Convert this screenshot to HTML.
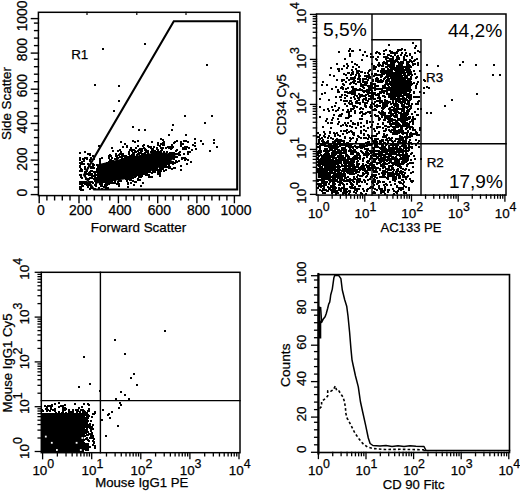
<!DOCTYPE html>
<html><head><meta charset="utf-8"><style>
html,body{margin:0;padding:0;background:#fff;overflow:hidden;width:520px;height:493px;}
svg{display:block;}
</style></head><body>
<svg width="520" height="493" viewBox="0 0 520 493" font-family='"Liberation Sans", sans-serif'>
<rect x="0" y="0" width="520" height="493" fill="#fff"/>
<polygon points="97,164.5 127,157.5 148,153.5 165,152.5 177,156 168,163.5 148,172.5 127,179 97,183.5" fill="#000"/><rect x="41.5" y="413" width="42.5" height="39.5" fill="#000"/><polygon points="318,306.5 320.3,306.5 320.3,320 321.3,322 321.3,338.5 318,338.5" fill="#000"/>
<path d="M130 168h2v2h-2zM140 161h2v2h-2zM124 172h2v2h-2zM121 168h2v2h-2zM150 168h2v2h-2zM120 168h2v2h-2zM114 169h2v2h-2zM142 165h2v2h-2zM155 162h2v2h-2zM121 169h2v2h-2zM130 164h2v2h-2zM131 169h2v2h-2zM105 186h2v2h-2zM168 159h2v2h-2zM184 157h2v2h-2zM157 155h2v2h-2zM138 169h2v2h-2zM96 181h2v2h-2zM101 169h2v2h-2zM137 174h2v2h-2zM121 158h2v2h-2zM138 162h2v2h-2zM143 162h2v2h-2zM140 158h2v2h-2zM146 172h2v2h-2zM146 165h2v2h-2zM173 158h2v2h-2zM143 169h2v2h-2zM130 169h2v2h-2zM130 165h2v2h-2zM181 157h2v2h-2zM140 155h2v2h-2zM112 178h2v2h-2zM133 160h2v2h-2zM162 165h2v2h-2zM121 177h2v2h-2zM87 183h2v2h-2zM146 174h2v2h-2zM123 162h2v2h-2zM145 166h2v2h-2zM148 163h2v2h-2zM107 170h2v2h-2zM135 167h2v2h-2zM119 170h2v2h-2zM102 166h2v2h-2zM155 167h2v2h-2zM102 179h2v2h-2zM154 161h2v2h-2zM137 179h2v2h-2zM152 164h2v2h-2zM123 171h2v2h-2zM121 163h2v2h-2zM134 173h2v2h-2zM125 163h2v2h-2zM155 165h2v2h-2zM145 173h2v2h-2zM137 169h2v2h-2zM148 161h2v2h-2zM127 175h2v2h-2zM120 161h2v2h-2zM137 162h2v2h-2zM115 173h2v2h-2zM105 172h2v2h-2zM127 166h2v2h-2zM111 178h2v2h-2zM168 162h2v2h-2zM123 163h2v2h-2zM117 172h2v2h-2zM130 161h2v2h-2zM133 169h2v2h-2zM108 183h2v2h-2zM118 162h2v2h-2zM138 165h2v2h-2zM121 167h2v2h-2zM124 157h2v2h-2zM150 166h2v2h-2zM134 165h2v2h-2zM139 162h2v2h-2zM154 168h2v2h-2zM137 161h2v2h-2zM143 167h2v2h-2zM142 173h2v2h-2zM98 187h2v2h-2zM126 180h2v2h-2zM156 167h2v2h-2zM102 170h2v2h-2zM112 175h2v2h-2zM135 163h2v2h-2zM105 171h2v2h-2zM129 168h2v2h-2zM108 161h2v2h-2zM111 180h2v2h-2zM131 167h2v2h-2zM127 169h2v2h-2zM120 180h2v2h-2zM154 169h2v2h-2zM143 166h2v2h-2zM142 164h2v2h-2zM159 175h2v2h-2zM128 172h2v2h-2zM147 166h2v2h-2zM141 175h2v2h-2zM149 171h2v2h-2zM140 185h2v2h-2zM182 157h2v2h-2zM154 158h2v2h-2zM160 158h2v2h-2zM153 171h2v2h-2zM135 166h2v2h-2zM148 174h2v2h-2zM135 159h2v2h-2zM146 168h2v2h-2zM142 182h2v2h-2zM137 172h2v2h-2zM103 169h2v2h-2zM163 151h2v2h-2zM137 167h2v2h-2zM172 152h2v2h-2zM119 174h2v2h-2zM146 167h2v2h-2zM125 176h2v2h-2zM151 172h2v2h-2zM154 162h2v2h-2zM105 169h2v2h-2zM140 157h2v2h-2zM99 173h2v2h-2zM184 159h2v2h-2zM159 156h2v2h-2zM144 173h2v2h-2zM155 164h2v2h-2zM140 173h2v2h-2zM133 170h2v2h-2zM129 167h2v2h-2zM97 170h2v2h-2zM136 161h2v2h-2zM155 169h2v2h-2zM128 173h2v2h-2zM139 172h2v2h-2zM110 164h2v2h-2zM142 158h2v2h-2zM158 162h2v2h-2zM102 171h2v2h-2zM166 159h2v2h-2zM144 163h2v2h-2zM104 177h2v2h-2zM126 157h2v2h-2zM132 172h2v2h-2zM115 174h2v2h-2zM152 167h2v2h-2zM109 164h2v2h-2zM138 174h2v2h-2zM132 164h2v2h-2zM110 159h2v2h-2zM119 173h2v2h-2zM119 166h2v2h-2zM149 165h2v2h-2zM113 167h2v2h-2zM122 174h2v2h-2zM159 170h2v2h-2zM90 170h2v2h-2zM136 163h2v2h-2zM133 163h2v2h-2zM108 172h2v2h-2zM145 157h2v2h-2zM146 161h2v2h-2zM145 167h2v2h-2zM166 163h2v2h-2zM117 161h2v2h-2zM135 164h2v2h-2zM163 165h2v2h-2zM153 163h2v2h-2zM105 168h2v2h-2zM92 165h2v2h-2zM151 163h2v2h-2zM131 168h2v2h-2zM151 168h2v2h-2zM122 166h2v2h-2zM161 167h2v2h-2zM120 163h2v2h-2zM143 168h2v2h-2zM130 179h2v2h-2zM139 165h2v2h-2zM176 153h2v2h-2zM136 162h2v2h-2zM171 157h2v2h-2zM114 176h2v2h-2zM187 159h2v2h-2zM123 169h2v2h-2zM131 157h2v2h-2zM172 161h2v2h-2zM104 184h2v2h-2zM126 172h2v2h-2zM140 171h2v2h-2zM106 174h2v2h-2zM122 168h2v2h-2zM145 165h2v2h-2zM142 163h2v2h-2zM121 162h2v2h-2zM90 167h2v2h-2zM134 176h2v2h-2zM112 170h2v2h-2zM122 172h2v2h-2zM174 167h2v2h-2zM124 166h2v2h-2zM137 163h2v2h-2zM117 163h2v2h-2zM138 160h2v2h-2zM166 158h2v2h-2zM123 170h2v2h-2zM94 173h2v2h-2zM130 159h2v2h-2zM118 172h2v2h-2zM142 157h2v2h-2zM139 158h2v2h-2zM132 173h2v2h-2zM127 173h2v2h-2zM114 166h2v2h-2zM105 174h2v2h-2zM119 176h2v2h-2zM181 158h2v2h-2zM180 165h2v2h-2zM142 155h2v2h-2zM137 164h2v2h-2zM185 158h2v2h-2zM147 162h2v2h-2zM141 161h2v2h-2zM130 167h2v2h-2zM125 169h2v2h-2zM124 171h2v2h-2zM123 175h2v2h-2zM115 163h2v2h-2zM91 173h2v2h-2zM124 163h2v2h-2zM152 161h2v2h-2zM153 164h2v2h-2zM157 161h2v2h-2zM141 160h2v2h-2zM126 167h2v2h-2zM136 169h2v2h-2zM118 173h2v2h-2zM103 170h2v2h-2zM135 171h2v2h-2zM144 165h2v2h-2zM101 182h2v2h-2zM142 171h2v2h-2zM162 162h2v2h-2zM116 173h2v2h-2zM120 173h2v2h-2zM122 171h2v2h-2zM119 156h2v2h-2zM150 161h2v2h-2zM170 161h2v2h-2zM107 174h2v2h-2zM109 162h2v2h-2zM110 171h2v2h-2zM138 167h2v2h-2zM140 169h2v2h-2zM158 159h2v2h-2zM99 180h2v2h-2zM111 175h2v2h-2zM167 166h2v2h-2zM98 174h2v2h-2zM124 168h2v2h-2zM170 157h2v2h-2zM122 162h2v2h-2zM169 167h2v2h-2zM81 181h2v2h-2zM128 160h2v2h-2zM135 172h2v2h-2zM118 180h2v2h-2zM122 163h2v2h-2zM134 151h2v2h-2zM152 170h2v2h-2zM123 166h2v2h-2zM165 162h2v2h-2zM164 161h2v2h-2zM148 176h2v2h-2zM126 173h2v2h-2zM146 154h2v2h-2zM173 154h2v2h-2zM149 164h2v2h-2zM119 168h2v2h-2zM152 155h2v2h-2zM132 152h2v2h-2zM116 155h2v2h-2zM122 170h2v2h-2zM80 176h2v2h-2zM118 166h2v2h-2zM159 169h2v2h-2zM152 162h2v2h-2zM121 165h2v2h-2zM117 174h2v2h-2zM115 165h2v2h-2zM180 169h2v2h-2zM150 163h2v2h-2zM114 180h2v2h-2zM134 157h2v2h-2zM132 174h2v2h-2zM147 152h2v2h-2zM157 154h2v2h-2zM130 166h2v2h-2zM134 169h2v2h-2zM101 167h2v2h-2zM168 160h2v2h-2zM128 168h2v2h-2zM111 160h2v2h-2zM149 167h2v2h-2zM99 168h2v2h-2zM117 181h2v2h-2zM109 168h2v2h-2zM145 174h2v2h-2zM149 169h2v2h-2zM164 153h2v2h-2zM146 163h2v2h-2zM152 159h2v2h-2zM159 173h2v2h-2zM187 151h2v2h-2zM163 157h2v2h-2zM151 151h2v2h-2zM90 181h2v2h-2zM87 184h2v2h-2zM103 171h2v2h-2zM133 168h2v2h-2zM127 172h2v2h-2zM142 162h2v2h-2zM109 154h2v2h-2zM167 161h2v2h-2zM118 183h2v2h-2zM139 164h2v2h-2zM140 164h2v2h-2zM112 168h2v2h-2zM112 160h2v2h-2zM85 171h2v2h-2zM143 163h2v2h-2zM100 173h2v2h-2zM153 155h2v2h-2zM115 164h2v2h-2zM120 164h2v2h-2zM110 162h2v2h-2zM129 166h2v2h-2zM129 172h2v2h-2zM106 181h2v2h-2zM130 182h2v2h-2zM156 163h2v2h-2zM125 159h2v2h-2zM159 165h2v2h-2zM132 170h2v2h-2zM118 175h2v2h-2zM115 168h2v2h-2zM151 166h2v2h-2zM132 167h2v2h-2zM96 171h2v2h-2zM165 155h2v2h-2zM135 165h2v2h-2zM180 143h2v2h-2zM126 160h2v2h-2zM132 165h2v2h-2zM115 175h2v2h-2zM132 156h2v2h-2zM142 161h2v2h-2zM142 166h2v2h-2zM161 168h2v2h-2zM165 166h2v2h-2zM166 161h2v2h-2zM135 175h2v2h-2zM133 158h2v2h-2zM100 182h2v2h-2zM117 171h2v2h-2zM94 177h2v2h-2zM152 160h2v2h-2zM116 172h2v2h-2zM137 178h2v2h-2zM123 155h2v2h-2zM82 185h2v2h-2zM169 166h2v2h-2zM131 172h2v2h-2zM160 170h2v2h-2zM119 160h2v2h-2zM122 165h2v2h-2zM148 167h2v2h-2zM134 166h2v2h-2zM114 170h2v2h-2zM129 173h2v2h-2zM122 167h2v2h-2zM158 172h2v2h-2zM132 161h2v2h-2zM167 156h2v2h-2zM105 176h2v2h-2zM113 178h2v2h-2zM120 170h2v2h-2zM150 155h2v2h-2zM169 159h2v2h-2zM141 165h2v2h-2zM174 153h2v2h-2zM171 147h2v2h-2zM130 160h2v2h-2zM111 182h2v2h-2zM117 167h2v2h-2zM127 163h2v2h-2zM93 178h2v2h-2zM147 156h2v2h-2zM88 172h2v2h-2zM116 174h2v2h-2zM165 164h2v2h-2zM93 164h2v2h-2zM155 163h2v2h-2zM113 173h2v2h-2zM172 162h2v2h-2zM163 163h2v2h-2zM125 174h2v2h-2zM140 162h2v2h-2zM116 170h2v2h-2zM111 166h2v2h-2zM128 166h2v2h-2zM110 165h2v2h-2zM186 163h2v2h-2zM154 154h2v2h-2zM137 159h2v2h-2zM128 151h2v2h-2zM145 164h2v2h-2zM89 171h2v2h-2zM133 171h2v2h-2zM123 158h2v2h-2zM162 158h2v2h-2zM172 163h2v2h-2zM128 176h2v2h-2zM119 153h2v2h-2zM132 163h2v2h-2zM126 168h2v2h-2zM138 166h2v2h-2zM120 169h2v2h-2zM131 174h2v2h-2zM134 172h2v2h-2zM125 175h2v2h-2zM147 163h2v2h-2zM136 168h2v2h-2zM138 163h2v2h-2zM104 176h2v2h-2zM98 172h2v2h-2zM151 176h2v2h-2zM107 167h2v2h-2zM124 169h2v2h-2zM123 165h2v2h-2zM157 169h2v2h-2zM176 161h2v2h-2zM132 157h2v2h-2zM170 156h2v2h-2zM132 153h2v2h-2zM156 158h2v2h-2zM161 164h2v2h-2zM119 180h2v2h-2zM96 164h2v2h-2zM131 166h2v2h-2zM145 161h2v2h-2zM140 165h2v2h-2zM138 172h2v2h-2zM147 169h2v2h-2zM154 170h2v2h-2zM113 171h2v2h-2zM105 185h2v2h-2zM189 151h2v2h-2zM128 170h2v2h-2zM157 173h2v2h-2zM126 171h2v2h-2zM112 169h2v2h-2zM138 159h2v2h-2zM118 165h2v2h-2zM129 179h2v2h-2zM150 157h2v2h-2zM158 170h2v2h-2zM104 166h2v2h-2zM129 160h2v2h-2zM104 180h2v2h-2zM179 151h2v2h-2zM146 173h2v2h-2zM108 174h2v2h-2zM110 175h2v2h-2zM114 177h2v2h-2zM155 161h2v2h-2zM142 169h2v2h-2zM139 176h2v2h-2zM139 174h2v2h-2zM153 160h2v2h-2zM139 179h2v2h-2zM156 148h2v2h-2zM139 170h2v2h-2zM135 160h2v2h-2zM127 174h2v2h-2zM192 144h2v2h-2zM130 178h2v2h-2zM151 153h2v2h-2zM139 166h2v2h-2zM139 160h2v2h-2zM142 170h2v2h-2zM173 167h2v2h-2zM110 174h2v2h-2zM142 172h2v2h-2zM135 181h2v2h-2zM154 156h2v2h-2zM100 170h2v2h-2zM160 154h2v2h-2zM126 174h2v2h-2zM134 167h2v2h-2zM141 170h2v2h-2zM107 181h2v2h-2zM113 175h2v2h-2zM135 168h2v2h-2zM107 187h2v2h-2zM125 178h2v2h-2zM157 163h2v2h-2zM108 178h2v2h-2zM147 160h2v2h-2zM88 174h2v2h-2zM148 160h2v2h-2zM127 178h2v2h-2zM118 169h2v2h-2zM149 166h2v2h-2zM125 173h2v2h-2zM165 156h2v2h-2zM132 180h2v2h-2zM127 183h2v2h-2zM115 172h2v2h-2zM136 171h2v2h-2zM135 158h2v2h-2zM148 159h2v2h-2zM163 152h2v2h-2zM140 167h2v2h-2zM128 159h2v2h-2zM158 151h2v2h-2zM122 158h2v2h-2zM129 174h2v2h-2zM109 173h2v2h-2zM127 168h2v2h-2zM157 171h2v2h-2zM149 159h2v2h-2zM158 161h2v2h-2zM162 168h2v2h-2zM159 168h2v2h-2zM169 160h2v2h-2zM148 166h2v2h-2zM156 154h2v2h-2zM94 176h2v2h-2zM171 168h2v2h-2zM164 166h2v2h-2zM175 160h2v2h-2zM123 176h2v2h-2zM164 163h2v2h-2zM139 163h2v2h-2zM165 163h2v2h-2zM130 177h2v2h-2zM144 166h2v2h-2zM124 176h2v2h-2zM134 170h2v2h-2zM149 168h2v2h-2zM158 165h2v2h-2zM159 163h2v2h-2zM161 163h2v2h-2zM129 164h2v2h-2zM125 168h2v2h-2zM95 177h2v2h-2zM143 171h2v2h-2zM146 162h2v2h-2zM134 164h2v2h-2zM129 178h2v2h-2zM144 161h2v2h-2zM117 173h2v2h-2zM141 171h2v2h-2zM147 158h2v2h-2zM125 172h2v2h-2zM116 183h2v2h-2zM187 153h2v2h-2zM116 169h2v2h-2zM122 173h2v2h-2zM174 156h2v2h-2zM98 175h2v2h-2zM158 156h2v2h-2zM160 159h2v2h-2zM147 157h2v2h-2zM94 171h2v2h-2zM94 178h2v2h-2zM133 184h2v2h-2zM131 163h2v2h-2zM125 164h2v2h-2zM86 182h2v2h-2zM121 171h2v2h-2zM126 163h2v2h-2zM174 162h2v2h-2zM133 165h2v2h-2zM158 157h2v2h-2zM102 180h2v2h-2zM131 162h2v2h-2zM160 166h2v2h-2zM95 180h2v2h-2zM159 171h2v2h-2zM134 175h2v2h-2zM129 175h2v2h-2zM153 157h2v2h-2zM161 160h2v2h-2zM112 172h2v2h-2zM114 182h2v2h-2zM137 168h2v2h-2zM114 168h2v2h-2zM132 177h2v2h-2zM132 166h2v2h-2zM138 164h2v2h-2zM130 158h2v2h-2zM144 149h2v2h-2zM114 163h2v2h-2zM140 176h2v2h-2zM157 158h2v2h-2zM143 161h2v2h-2zM149 155h2v2h-2zM163 170h2v2h-2zM143 156h2v2h-2zM158 160h2v2h-2zM118 185h2v2h-2zM135 156h2v2h-2zM162 166h2v2h-2zM127 182h2v2h-2zM157 165h2v2h-2zM143 172h2v2h-2zM98 181h2v2h-2zM155 166h2v2h-2zM131 170h2v2h-2zM149 157h2v2h-2zM118 176h2v2h-2zM126 169h2v2h-2zM168 167h2v2h-2zM178 160h2v2h-2zM148 158h2v2h-2zM99 178h2v2h-2zM100 172h2v2h-2zM146 159h2v2h-2zM120 166h2v2h-2zM159 161h2v2h-2zM141 169h2v2h-2zM134 181h2v2h-2zM101 177h2v2h-2zM168 158h2v2h-2zM132 162h2v2h-2zM116 156h2v2h-2zM145 171h2v2h-2zM117 170h2v2h-2zM165 169h2v2h-2zM100 185h2v2h-2zM169 162h2v2h-2zM158 164h2v2h-2zM115 170h2v2h-2zM159 166h2v2h-2zM94 188h2v2h-2zM136 172h2v2h-2zM126 166h2v2h-2zM139 168h2v2h-2zM153 154h2v2h-2zM147 168h2v2h-2zM146 166h2v2h-2zM135 162h2v2h-2zM104 179h2v2h-2zM154 160h2v2h-2zM142 145h2v2h-2zM109 172h2v2h-2zM164 158h2v2h-2zM111 171h2v2h-2zM118 154h2v2h-2zM108 165h2v2h-2zM140 160h2v2h-2zM118 168h2v2h-2zM132 169h2v2h-2zM109 176h2v2h-2zM115 178h2v2h-2zM116 175h2v2h-2zM137 170h2v2h-2zM106 176h2v2h-2zM102 169h2v2h-2zM146 160h2v2h-2zM109 169h2v2h-2zM154 171h2v2h-2zM109 159h2v2h-2zM91 175h2v2h-2zM143 170h2v2h-2zM91 170h2v2h-2zM135 169h2v2h-2zM163 162h2v2h-2zM93 175h2v2h-2zM87 178h2v2h-2zM102 174h2v2h-2zM138 176h2v2h-2zM116 158h2v2h-2zM183 148h2v2h-2zM190 161h2v2h-2zM168 153h2v2h-2zM165 161h2v2h-2zM150 176h2v2h-2zM104 168h2v2h-2zM111 170h2v2h-2zM165 165h2v2h-2zM161 162h2v2h-2zM153 167h2v2h-2zM133 162h2v2h-2zM129 170h2v2h-2zM127 167h2v2h-2zM130 172h2v2h-2zM89 177h2v2h-2zM117 168h2v2h-2zM136 174h2v2h-2zM133 166h2v2h-2zM106 166h2v2h-2zM147 167h2v2h-2zM153 156h2v2h-2zM148 171h2v2h-2zM125 171h2v2h-2zM106 162h2v2h-2zM127 186h2v2h-2zM113 177h2v2h-2zM118 161h2v2h-2zM123 173h2v2h-2zM85 181h2v2h-2zM107 164h2v2h-2zM129 155h2v2h-2zM130 174h2v2h-2zM130 176h2v2h-2zM105 165h2v2h-2zM113 182h2v2h-2zM154 166h2v2h-2zM110 170h2v2h-2zM91 177h2v2h-2zM144 167h2v2h-2zM139 173h2v2h-2zM117 164h2v2h-2zM133 164h2v2h-2zM127 171h2v2h-2zM109 180h2v2h-2zM168 164h2v2h-2zM116 161h2v2h-2zM133 155h2v2h-2zM103 175h2v2h-2zM152 169h2v2h-2zM113 170h2v2h-2zM101 165h2v2h-2zM99 177h2v2h-2zM96 177h2v2h-2zM103 186h2v2h-2zM99 170h2v2h-2zM102 175h2v2h-2zM96 169h2v2h-2zM98 168h2v2h-2zM108 180h2v2h-2zM99 164h2v2h-2zM107 177h2v2h-2zM105 180h2v2h-2zM98 166h2v2h-2zM105 175h2v2h-2zM100 165h2v2h-2zM107 182h2v2h-2zM106 173h2v2h-2zM109 177h2v2h-2zM105 177h2v2h-2zM99 182h2v2h-2zM101 175h2v2h-2zM104 173h2v2h-2zM110 172h2v2h-2zM104 172h2v2h-2zM100 181h2v2h-2zM94 175h2v2h-2zM113 174h2v2h-2zM102 176h2v2h-2zM93 167h2v2h-2zM105 179h2v2h-2zM105 178h2v2h-2zM101 176h2v2h-2zM110 167h2v2h-2zM98 180h2v2h-2zM110 177h2v2h-2zM102 172h2v2h-2zM101 188h2v2h-2zM105 183h2v2h-2zM112 174h2v2h-2zM97 176h2v2h-2zM110 168h2v2h-2zM108 176h2v2h-2zM109 175h2v2h-2zM106 180h2v2h-2zM104 171h2v2h-2zM106 171h2v2h-2zM106 168h2v2h-2zM96 178h2v2h-2zM107 172h2v2h-2zM111 174h2v2h-2zM109 163h2v2h-2zM96 170h2v2h-2zM101 181h2v2h-2zM100 174h2v2h-2zM96 168h2v2h-2zM95 182h2v2h-2zM108 177h2v2h-2zM98 173h2v2h-2zM109 182h2v2h-2zM103 181h2v2h-2zM104 174h2v2h-2zM97 177h2v2h-2zM101 171h2v2h-2zM108 181h2v2h-2zM106 172h2v2h-2zM101 183h2v2h-2zM102 178h2v2h-2zM102 177h2v2h-2zM109 178h2v2h-2zM101 185h2v2h-2zM106 175h2v2h-2zM100 176h2v2h-2zM95 184h2v2h-2zM101 179h2v2h-2zM103 167h2v2h-2zM108 182h2v2h-2zM110 176h2v2h-2zM99 171h2v2h-2zM108 175h2v2h-2zM99 183h2v2h-2zM99 175h2v2h-2zM108 167h2v2h-2zM101 173h2v2h-2zM98 165h2v2h-2zM111 169h2v2h-2zM103 180h2v2h-2zM107 178h2v2h-2zM104 181h2v2h-2zM103 174h2v2h-2zM95 174h2v2h-2zM106 184h2v2h-2zM105 188h2v2h-2zM173 142h2v2h-2zM121 157h2v2h-2zM137 160h2v2h-2zM127 156h2v2h-2zM160 157h2v2h-2zM171 144h2v2h-2zM125 155h2v2h-2zM137 150h2v2h-2zM151 149h2v2h-2zM146 158h2v2h-2zM133 149h2v2h-2zM104 167h2v2h-2zM185 134h2v2h-2zM121 155h2v2h-2zM122 153h2v2h-2zM157 142h2v2h-2zM136 165h2v2h-2zM126 146h2v2h-2zM87 163h2v2h-2zM157 149h2v2h-2zM138 153h2v2h-2zM135 147h2v2h-2zM155 154h2v2h-2zM121 160h2v2h-2zM161 159h2v2h-2zM155 152h2v2h-2zM160 138h2v2h-2zM160 143h2v2h-2zM111 147h2v2h-2zM168 154h2v2h-2zM183 153h2v2h-2zM160 147h2v2h-2zM160 151h2v2h-2zM157 151h2v2h-2zM143 147h2v2h-2zM169 146h2v2h-2zM171 152h2v2h-2zM157 153h2v2h-2zM131 150h2v2h-2zM150 146h2v2h-2zM115 153h2v2h-2zM114 158h2v2h-2zM153 152h2v2h-2zM136 159h2v2h-2zM129 157h2v2h-2zM133 152h2v2h-2zM137 158h2v2h-2zM129 149h2v2h-2zM175 150h2v2h-2zM117 157h2v2h-2zM121 153h2v2h-2zM148 146h2v2h-2zM139 152h2v2h-2zM108 157h2v2h-2zM141 164h2v2h-2zM138 152h2v2h-2zM159 145h2v2h-2zM169 152h2v2h-2zM161 143h2v2h-2zM162 147h2v2h-2zM147 150h2v2h-2zM98 145h2v2h-2zM99 160h2v2h-2zM122 146h2v2h-2zM166 151h2v2h-2zM119 149h2v2h-2zM154 151h2v2h-2zM111 157h2v2h-2zM132 155h2v2h-2zM117 150h2v2h-2zM132 149h2v2h-2zM99 162h2v2h-2zM130 147h2v2h-2zM145 151h2v2h-2zM126 145h2v2h-2zM134 141h2v2h-2zM113 164h2v2h-2zM143 144h2v2h-2zM116 157h2v2h-2zM154 150h2v2h-2zM136 158h2v2h-2zM163 141h2v2h-2zM128 161h2v2h-2zM147 145h2v2h-2zM131 155h2v2h-2zM108 155h2v2h-2zM153 150h2v2h-2zM137 145h2v2h-2zM178 152h2v2h-2zM142 156h2v2h-2zM151 152h2v2h-2zM155 151h2v2h-2zM156 165h2v2h-2zM132 140h2v2h-2zM173 152h2v2h-2zM125 158h2v2h-2zM92 164h2v2h-2zM168 147h2v2h-2zM101 157h2v2h-2zM176 149h2v2h-2zM188 147h2v2h-2zM131 154h2v2h-2zM124 143h2v2h-2zM120 151h2v2h-2zM128 162h2v2h-2zM165 147h2v2h-2zM156 159h2v2h-2zM140 152h2v2h-2zM156 147h2v2h-2zM145 158h2v2h-2zM179 154h2v2h-2zM150 147h2v2h-2zM156 151h2v2h-2zM182 148h2v2h-2zM141 150h2v2h-2zM138 157h2v2h-2zM115 155h2v2h-2zM112 150h2v2h-2zM152 148h2v2h-2zM130 157h2v2h-2zM122 154h2v2h-2zM134 150h2v2h-2zM151 156h2v2h-2zM110 155h2v2h-2zM120 159h2v2h-2zM172 154h2v2h-2zM135 151h2v2h-2zM141 153h2v2h-2zM163 144h2v2h-2zM140 151h2v2h-2zM128 153h2v2h-2zM163 143h2v2h-2zM133 157h2v2h-2zM150 151h2v2h-2zM145 154h2v2h-2zM151 141h2v2h-2zM187 141h2v2h-2zM137 140h2v2h-2zM144 148h2v2h-2zM156 153h2v2h-2zM144 152h2v2h-2zM135 161h2v2h-2zM157 144h2v2h-2zM143 154h2v2h-2zM114 161h2v2h-2zM121 159h2v2h-2zM161 147h2v2h-2zM154 157h2v2h-2zM127 159h2v2h-2zM176 156h2v2h-2zM120 141h2v2h-2zM131 149h2v2h-2zM167 146h2v2h-2zM174 141h2v2h-2zM122 160h2v2h-2zM149 163h2v2h-2zM185 148h2v2h-2zM149 156h2v2h-2zM138 161h2v2h-2zM109 160h2v2h-2zM170 152h2v2h-2zM133 154h2v2h-2zM170 148h2v2h-2zM99 158h2v2h-2zM166 156h2v2h-2zM162 144h2v2h-2zM137 153h2v2h-2zM140 163h2v2h-2zM139 155h2v2h-2zM163 153h2v2h-2zM182 143h2v2h-2zM161 149h2v2h-2zM166 162h2v2h-2zM171 146h2v2h-2zM191 149h2v2h-2zM169 154h2v2h-2zM148 156h2v2h-2zM162 142h2v2h-2zM176 140h2v2h-2zM148 155h2v2h-2zM136 154h2v2h-2zM182 147h2v2h-2zM151 150h2v2h-2zM138 149h2v2h-2zM153 146h2v2h-2zM178 154h2v2h-2zM162 155h2v2h-2zM194 145h2v2h-2zM213 142h2v2h-2zM162 156h2v2h-2zM142 153h2v2h-2zM202 143h2v2h-2zM145 149h2v2h-2zM141 148h2v2h-2zM139 159h2v2h-2zM164 157h2v2h-2zM180 141h2v2h-2zM170 154h2v2h-2zM139 149h2v2h-2zM185 140h2v2h-2zM167 157h2v2h-2zM194 142h2v2h-2zM162 139h2v2h-2zM172 146h2v2h-2zM213 139h2v2h-2zM139 148h2v2h-2zM183 140h2v2h-2zM184 146h2v2h-2zM180 145h2v2h-2zM160 150h2v2h-2zM170 162h2v2h-2zM209 150h2v2h-2zM186 146h2v2h-2zM200 140h2v2h-2zM136 160h2v2h-2zM173 155h2v2h-2zM195 148h2v2h-2zM194 138h2v2h-2zM81 161h2v2h-2zM80 168h2v2h-2zM79 174h2v2h-2zM79 188h2v2h-2zM79 170h2v2h-2zM79 181h2v2h-2zM80 174h2v2h-2zM81 177h2v2h-2zM80 186h2v2h-2zM80 187h2v2h-2zM80 181h2v2h-2zM80 163h2v2h-2zM80 189h2v2h-2zM79 186h2v2h-2zM79 159h2v2h-2zM79 165h2v2h-2zM79 183h2v2h-2zM84 157h2v2h-2zM83 158h2v2h-2zM91 187h2v2h-2zM88 178h2v2h-2zM92 182h2v2h-2zM86 170h2v2h-2zM86 157h2v2h-2zM80 182h2v2h-2zM86 158h2v2h-2zM79 152h2v2h-2zM86 173h2v2h-2zM94 180h2v2h-2zM85 173h2v2h-2zM79 157h2v2h-2zM90 186h2v2h-2zM84 166h2v2h-2zM81 162h2v2h-2zM82 182h2v2h-2zM89 181h2v2h-2zM80 169h2v2h-2zM89 159h2v2h-2zM87 153h2v2h-2zM89 174h2v2h-2zM89 153h2v2h-2zM88 165h2v2h-2zM82 189h2v2h-2zM87 185h2v2h-2zM81 169h2v2h-2zM90 158h2v2h-2zM81 170h2v2h-2zM89 160h2v2h-2zM84 183h2v2h-2zM81 163h2v2h-2zM84 174h2v2h-2zM90 157h2v2h-2zM86 184h2v2h-2zM89 184h2v2h-2zM93 171h2v2h-2zM83 163h2v2h-2zM83 181h2v2h-2zM83 160h2v2h-2zM79 166h2v2h-2zM92 167h2v2h-2zM89 154h2v2h-2zM84 171h2v2h-2zM79 162h2v2h-2zM92 155h2v2h-2zM82 158h2v2h-2zM90 173h2v2h-2zM84 182h2v2h-2zM87 186h2v2h-2zM84 168h2v2h-2zM92 163h2v2h-2zM91 181h2v2h-2zM93 158h2v2h-2zM94 184h2v2h-2zM84 151h2v2h-2zM95 185h2v2h-2zM89 188h2v2h-2zM85 157h2v2h-2zM81 184h2v2h-2zM87 167h2v2h-2zM85 178h2v2h-2zM90 166h2v2h-2zM102 48h2v2h-2zM144 43h2v2h-2zM206 64h2v2h-2zM94 84h2v2h-2zM118 85h2v2h-2zM118 100h2v2h-2zM113 110h2v2h-2zM184 115h2v2h-2zM211 115h2v2h-2zM204 122h2v2h-2zM132 126h2v2h-2zM138 129h2v2h-2zM144 129h2v2h-2zM172 124h2v2h-2zM171 129h2v2h-2zM216 146h2v2h-2zM168 134h2v2h-2z" fill="#000"/><path d="M328 162h2v2h-2zM361 193h2v2h-2zM351 162h2v2h-2zM319 168h2v2h-2zM371 166h2v2h-2zM328 163h2v2h-2zM317 187h2v2h-2zM342 192h2v2h-2zM365 142h2v2h-2zM329 172h2v2h-2zM322 139h2v2h-2zM330 180h2v2h-2zM340 156h2v2h-2zM370 186h2v2h-2zM346 165h2v2h-2zM354 166h2v2h-2zM328 153h2v2h-2zM349 178h2v2h-2zM339 184h2v2h-2zM320 169h2v2h-2zM339 153h2v2h-2zM341 157h2v2h-2zM338 188h2v2h-2zM372 180h2v2h-2zM317 143h2v2h-2zM351 168h2v2h-2zM321 157h2v2h-2zM334 143h2v2h-2zM324 154h2v2h-2zM317 183h2v2h-2zM320 151h2v2h-2zM330 159h2v2h-2zM334 171h2v2h-2zM321 140h2v2h-2zM326 142h2v2h-2zM321 180h2v2h-2zM324 168h2v2h-2zM337 156h2v2h-2zM327 190h2v2h-2zM339 159h2v2h-2zM335 152h2v2h-2zM340 160h2v2h-2zM348 163h2v2h-2zM327 172h2v2h-2zM325 161h2v2h-2zM345 164h2v2h-2zM353 156h2v2h-2zM331 186h2v2h-2zM328 167h2v2h-2zM350 160h2v2h-2zM340 150h2v2h-2zM322 179h2v2h-2zM373 158h2v2h-2zM374 176h2v2h-2zM324 159h2v2h-2zM320 185h2v2h-2zM363 153h2v2h-2zM321 179h2v2h-2zM336 143h2v2h-2zM327 163h2v2h-2zM338 171h2v2h-2zM322 161h2v2h-2zM346 183h2v2h-2zM345 162h2v2h-2zM320 162h2v2h-2zM382 181h2v2h-2zM339 135h2v2h-2zM329 159h2v2h-2zM362 158h2v2h-2zM332 152h2v2h-2zM349 168h2v2h-2zM318 176h2v2h-2zM324 157h2v2h-2zM347 169h2v2h-2zM351 131h2v2h-2zM335 145h2v2h-2zM326 171h2v2h-2zM366 166h2v2h-2zM322 156h2v2h-2zM336 166h2v2h-2zM319 167h2v2h-2zM337 159h2v2h-2zM327 155h2v2h-2zM321 158h2v2h-2zM322 171h2v2h-2zM343 147h2v2h-2zM355 166h2v2h-2zM338 158h2v2h-2zM348 144h2v2h-2zM332 138h2v2h-2zM352 167h2v2h-2zM348 143h2v2h-2zM334 142h2v2h-2zM358 188h2v2h-2zM344 148h2v2h-2zM344 165h2v2h-2zM338 152h2v2h-2zM337 177h2v2h-2zM324 173h2v2h-2zM326 181h2v2h-2zM351 143h2v2h-2zM354 149h2v2h-2zM321 144h2v2h-2zM355 169h2v2h-2zM344 150h2v2h-2zM350 158h2v2h-2zM321 168h2v2h-2zM327 159h2v2h-2zM354 178h2v2h-2zM324 162h2v2h-2zM330 166h2v2h-2zM356 139h2v2h-2zM348 171h2v2h-2zM334 187h2v2h-2zM349 148h2v2h-2zM336 190h2v2h-2zM357 154h2v2h-2zM347 157h2v2h-2zM323 183h2v2h-2zM355 171h2v2h-2zM353 177h2v2h-2zM337 163h2v2h-2zM331 167h2v2h-2zM323 176h2v2h-2zM344 164h2v2h-2zM317 151h2v2h-2zM326 150h2v2h-2zM327 142h2v2h-2zM335 151h2v2h-2zM326 164h2v2h-2zM324 181h2v2h-2zM353 132h2v2h-2zM332 151h2v2h-2zM368 141h2v2h-2zM321 174h2v2h-2zM332 145h2v2h-2zM344 177h2v2h-2zM345 177h2v2h-2zM336 173h2v2h-2zM360 137h2v2h-2zM356 158h2v2h-2zM338 165h2v2h-2zM329 167h2v2h-2zM340 139h2v2h-2zM329 155h2v2h-2zM322 177h2v2h-2zM352 180h2v2h-2zM323 161h2v2h-2zM338 159h2v2h-2zM324 171h2v2h-2zM334 154h2v2h-2zM365 176h2v2h-2zM324 133h2v2h-2zM331 172h2v2h-2zM324 183h2v2h-2zM326 161h2v2h-2zM332 166h2v2h-2zM322 178h2v2h-2zM323 158h2v2h-2zM371 174h2v2h-2zM335 157h2v2h-2zM318 136h2v2h-2zM318 174h2v2h-2zM343 160h2v2h-2zM318 150h2v2h-2zM333 191h2v2h-2zM350 187h2v2h-2zM367 149h2v2h-2zM345 124h2v2h-2zM356 161h2v2h-2zM332 157h2v2h-2zM342 165h2v2h-2zM343 187h2v2h-2zM326 157h2v2h-2zM322 188h2v2h-2zM352 137h2v2h-2zM321 177h2v2h-2zM356 138h2v2h-2zM329 178h2v2h-2zM353 149h2v2h-2zM350 170h2v2h-2zM319 134h2v2h-2zM356 189h2v2h-2zM344 137h2v2h-2zM331 147h2v2h-2zM356 162h2v2h-2zM357 160h2v2h-2zM338 139h2v2h-2zM343 165h2v2h-2zM338 161h2v2h-2zM342 155h2v2h-2zM352 184h2v2h-2zM328 174h2v2h-2zM325 157h2v2h-2zM341 155h2v2h-2zM329 149h2v2h-2zM336 170h2v2h-2zM324 178h2v2h-2zM327 122h2v2h-2zM332 176h2v2h-2zM336 174h2v2h-2zM328 144h2v2h-2zM343 179h2v2h-2zM334 133h2v2h-2zM342 147h2v2h-2zM332 117h2v2h-2zM355 158h2v2h-2zM339 157h2v2h-2zM349 158h2v2h-2zM333 164h2v2h-2zM356 179h2v2h-2zM325 159h2v2h-2zM356 164h2v2h-2zM329 162h2v2h-2zM328 150h2v2h-2zM326 141h2v2h-2zM345 168h2v2h-2zM321 170h2v2h-2zM317 158h2v2h-2zM325 155h2v2h-2zM363 154h2v2h-2zM350 150h2v2h-2zM351 171h2v2h-2zM341 164h2v2h-2zM317 161h2v2h-2zM323 179h2v2h-2zM364 145h2v2h-2zM341 176h2v2h-2zM321 156h2v2h-2zM324 148h2v2h-2zM322 141h2v2h-2zM323 175h2v2h-2zM324 145h2v2h-2zM342 168h2v2h-2zM332 161h2v2h-2zM324 165h2v2h-2zM327 152h2v2h-2zM320 154h2v2h-2zM335 160h2v2h-2zM362 160h2v2h-2zM333 165h2v2h-2zM337 155h2v2h-2zM336 191h2v2h-2zM335 161h2v2h-2zM326 145h2v2h-2zM352 146h2v2h-2zM333 185h2v2h-2zM335 179h2v2h-2zM322 158h2v2h-2zM359 178h2v2h-2zM321 166h2v2h-2zM317 132h2v2h-2zM332 146h2v2h-2zM335 187h2v2h-2zM356 181h2v2h-2zM342 174h2v2h-2zM334 188h2v2h-2zM323 154h2v2h-2zM352 170h2v2h-2zM355 141h2v2h-2zM334 144h2v2h-2zM339 161h2v2h-2zM352 147h2v2h-2zM347 160h2v2h-2zM333 167h2v2h-2zM364 180h2v2h-2zM326 178h2v2h-2zM346 160h2v2h-2zM346 154h2v2h-2zM360 132h2v2h-2zM327 176h2v2h-2zM336 138h2v2h-2zM353 157h2v2h-2zM338 162h2v2h-2zM346 161h2v2h-2zM350 149h2v2h-2zM335 147h2v2h-2zM326 156h2v2h-2zM354 186h2v2h-2zM344 168h2v2h-2zM330 145h2v2h-2zM351 183h2v2h-2zM319 161h2v2h-2zM333 187h2v2h-2zM351 163h2v2h-2zM338 187h2v2h-2zM322 142h2v2h-2zM376 144h2v2h-2zM331 160h2v2h-2zM333 151h2v2h-2zM337 161h2v2h-2zM352 157h2v2h-2zM371 162h2v2h-2zM351 179h2v2h-2zM326 165h2v2h-2zM318 179h2v2h-2zM340 151h2v2h-2zM326 152h2v2h-2zM325 176h2v2h-2zM326 167h2v2h-2zM337 165h2v2h-2zM358 168h2v2h-2zM334 165h2v2h-2zM350 183h2v2h-2zM354 167h2v2h-2zM332 141h2v2h-2zM320 160h2v2h-2zM345 193h2v2h-2zM336 179h2v2h-2zM333 143h2v2h-2zM352 168h2v2h-2zM349 173h2v2h-2zM356 190h2v2h-2zM333 142h2v2h-2zM366 165h2v2h-2zM357 171h2v2h-2zM350 146h2v2h-2zM324 166h2v2h-2zM323 170h2v2h-2zM352 151h2v2h-2zM319 173h2v2h-2zM331 176h2v2h-2zM328 145h2v2h-2zM345 165h2v2h-2zM340 172h2v2h-2zM345 161h2v2h-2zM356 176h2v2h-2zM347 145h2v2h-2zM322 181h2v2h-2zM347 156h2v2h-2zM356 153h2v2h-2zM334 174h2v2h-2zM320 159h2v2h-2zM326 166h2v2h-2zM326 155h2v2h-2zM347 155h2v2h-2zM324 160h2v2h-2zM325 165h2v2h-2zM354 150h2v2h-2zM340 188h2v2h-2zM329 175h2v2h-2zM338 184h2v2h-2zM333 150h2v2h-2zM354 155h2v2h-2zM366 148h2v2h-2zM366 170h2v2h-2zM345 188h2v2h-2zM345 167h2v2h-2zM325 172h2v2h-2zM318 146h2v2h-2zM355 172h2v2h-2zM344 173h2v2h-2zM336 148h2v2h-2zM357 146h2v2h-2zM319 170h2v2h-2zM330 164h2v2h-2zM345 160h2v2h-2zM352 173h2v2h-2zM335 174h2v2h-2zM337 174h2v2h-2zM359 155h2v2h-2zM327 178h2v2h-2zM333 179h2v2h-2zM339 151h2v2h-2zM336 145h2v2h-2zM353 165h2v2h-2zM333 178h2v2h-2zM345 190h2v2h-2zM367 172h2v2h-2zM321 143h2v2h-2zM347 122h2v2h-2zM335 173h2v2h-2zM320 163h2v2h-2zM323 150h2v2h-2zM368 169h2v2h-2zM320 150h2v2h-2zM350 130h2v2h-2zM342 179h2v2h-2zM330 162h2v2h-2zM330 185h2v2h-2zM319 138h2v2h-2zM347 143h2v2h-2zM333 157h2v2h-2zM328 169h2v2h-2zM366 175h2v2h-2zM368 160h2v2h-2zM341 156h2v2h-2zM334 157h2v2h-2zM352 133h2v2h-2zM331 192h2v2h-2zM322 140h2v2h-2zM334 179h2v2h-2zM320 161h2v2h-2zM337 176h2v2h-2zM343 173h2v2h-2zM370 176h2v2h-2zM335 139h2v2h-2zM360 150h2v2h-2zM366 156h2v2h-2zM344 176h2v2h-2zM337 141h2v2h-2zM340 162h2v2h-2zM344 174h2v2h-2zM349 190h2v2h-2zM339 155h2v2h-2zM352 171h2v2h-2zM343 184h2v2h-2zM353 158h2v2h-2zM373 192h2v2h-2zM344 175h2v2h-2zM349 165h2v2h-2zM325 151h2v2h-2zM362 173h2v2h-2zM344 170h2v2h-2zM330 143h2v2h-2zM345 159h2v2h-2zM328 183h2v2h-2zM332 188h2v2h-2zM323 164h2v2h-2zM331 154h2v2h-2zM352 122h2v2h-2zM346 142h2v2h-2zM317 153h2v2h-2zM317 179h2v2h-2zM338 169h2v2h-2zM327 137h2v2h-2zM341 165h2v2h-2zM353 166h2v2h-2zM344 166h2v2h-2zM369 187h2v2h-2zM343 144h2v2h-2zM326 175h2v2h-2zM342 158h2v2h-2zM323 141h2v2h-2zM350 173h2v2h-2zM326 148h2v2h-2zM333 145h2v2h-2zM341 170h2v2h-2zM353 181h2v2h-2zM370 162h2v2h-2zM325 164h2v2h-2zM324 172h2v2h-2zM332 183h2v2h-2zM340 158h2v2h-2zM326 158h2v2h-2zM347 179h2v2h-2zM317 157h2v2h-2zM323 189h2v2h-2zM320 143h2v2h-2zM319 145h2v2h-2zM338 167h2v2h-2zM330 127h2v2h-2zM351 159h2v2h-2zM328 161h2v2h-2zM317 146h2v2h-2zM363 144h2v2h-2zM319 147h2v2h-2zM333 153h2v2h-2zM362 167h2v2h-2zM340 173h2v2h-2zM367 168h2v2h-2zM365 164h2v2h-2zM343 168h2v2h-2zM333 177h2v2h-2zM347 176h2v2h-2zM339 166h2v2h-2zM346 171h2v2h-2zM357 174h2v2h-2zM359 169h2v2h-2zM340 174h2v2h-2zM370 152h2v2h-2zM334 162h2v2h-2zM343 175h2v2h-2zM347 159h2v2h-2zM321 161h2v2h-2zM322 155h2v2h-2zM338 189h2v2h-2zM324 142h2v2h-2zM346 191h2v2h-2zM338 157h2v2h-2zM339 172h2v2h-2zM354 145h2v2h-2zM323 184h2v2h-2zM337 173h2v2h-2zM340 175h2v2h-2zM337 151h2v2h-2zM351 165h2v2h-2zM371 150h2v2h-2zM342 133h2v2h-2zM327 160h2v2h-2zM329 148h2v2h-2zM357 152h2v2h-2zM363 167h2v2h-2zM353 176h2v2h-2zM332 179h2v2h-2zM341 152h2v2h-2zM355 151h2v2h-2zM335 163h2v2h-2zM343 171h2v2h-2zM371 138h2v2h-2zM340 176h2v2h-2zM320 166h2v2h-2zM337 181h2v2h-2zM331 190h2v2h-2zM332 169h2v2h-2zM345 152h2v2h-2zM342 173h2v2h-2zM343 152h2v2h-2zM363 137h2v2h-2zM350 163h2v2h-2zM335 140h2v2h-2zM352 187h2v2h-2zM319 165h2v2h-2zM334 166h2v2h-2zM324 153h2v2h-2zM323 185h2v2h-2zM330 148h2v2h-2zM344 162h2v2h-2zM337 192h2v2h-2zM324 169h2v2h-2zM335 158h2v2h-2zM345 154h2v2h-2zM334 148h2v2h-2zM318 161h2v2h-2zM343 151h2v2h-2zM367 188h2v2h-2zM337 150h2v2h-2zM348 190h2v2h-2zM334 135h2v2h-2zM341 178h2v2h-2zM329 157h2v2h-2zM334 149h2v2h-2zM350 164h2v2h-2zM348 156h2v2h-2zM329 171h2v2h-2zM327 169h2v2h-2zM360 166h2v2h-2zM338 149h2v2h-2zM354 157h2v2h-2zM350 152h2v2h-2zM320 171h2v2h-2zM353 167h2v2h-2zM348 172h2v2h-2zM363 129h2v2h-2zM319 183h2v2h-2zM334 169h2v2h-2zM359 167h2v2h-2zM361 175h2v2h-2zM335 193h2v2h-2zM341 177h2v2h-2zM340 159h2v2h-2zM344 160h2v2h-2zM346 188h2v2h-2zM377 146h2v2h-2zM328 165h2v2h-2zM332 172h2v2h-2zM349 147h2v2h-2zM329 163h2v2h-2zM349 191h2v2h-2zM332 164h2v2h-2zM353 173h2v2h-2zM347 180h2v2h-2zM330 167h2v2h-2zM336 161h2v2h-2zM345 192h2v2h-2zM327 164h2v2h-2zM334 163h2v2h-2zM356 169h2v2h-2zM334 147h2v2h-2zM326 153h2v2h-2zM323 157h2v2h-2zM383 165h2v2h-2zM321 137h2v2h-2zM362 164h2v2h-2zM359 175h2v2h-2zM318 172h2v2h-2zM366 149h2v2h-2zM343 189h2v2h-2zM349 166h2v2h-2zM361 165h2v2h-2zM341 182h2v2h-2zM328 175h2v2h-2zM333 152h2v2h-2zM343 159h2v2h-2zM356 182h2v2h-2zM331 171h2v2h-2zM392 157h2v2h-2zM336 169h2v2h-2zM334 177h2v2h-2zM339 140h2v2h-2zM367 134h2v2h-2zM330 137h2v2h-2zM341 147h2v2h-2zM363 133h2v2h-2zM357 135h2v2h-2zM336 132h2v2h-2zM317 171h2v2h-2zM358 185h2v2h-2zM341 140h2v2h-2zM340 144h2v2h-2zM345 145h2v2h-2zM365 137h2v2h-2zM358 171h2v2h-2zM352 166h2v2h-2zM320 158h2v2h-2zM323 192h2v2h-2zM333 174h2v2h-2zM329 174h2v2h-2zM329 132h2v2h-2zM345 151h2v2h-2zM328 188h2v2h-2zM356 157h2v2h-2zM333 184h2v2h-2zM334 167h2v2h-2zM331 169h2v2h-2zM321 160h2v2h-2zM333 181h2v2h-2zM331 122h2v2h-2zM348 164h2v2h-2zM350 138h2v2h-2zM333 156h2v2h-2zM348 193h2v2h-2zM317 168h2v2h-2zM359 156h2v2h-2zM347 170h2v2h-2zM324 156h2v2h-2zM325 168h2v2h-2zM356 165h2v2h-2zM349 140h2v2h-2zM350 145h2v2h-2zM366 150h2v2h-2zM335 170h2v2h-2zM353 164h2v2h-2zM331 179h2v2h-2zM332 160h2v2h-2zM325 150h2v2h-2zM354 168h2v2h-2zM333 155h2v2h-2zM323 131h2v2h-2zM328 155h2v2h-2zM330 170h2v2h-2zM336 139h2v2h-2zM339 183h2v2h-2zM321 171h2v2h-2zM357 178h2v2h-2zM363 173h2v2h-2zM323 160h2v2h-2zM322 163h2v2h-2zM339 169h2v2h-2zM370 137h2v2h-2zM353 168h2v2h-2zM319 116h2v2h-2zM373 140h2v2h-2zM326 190h2v2h-2zM330 160h2v2h-2zM320 167h2v2h-2zM331 152h2v2h-2zM359 185h2v2h-2zM358 179h2v2h-2zM347 162h2v2h-2zM349 170h2v2h-2zM342 170h2v2h-2zM402 179h2v2h-2zM336 152h2v2h-2zM341 173h2v2h-2zM353 161h2v2h-2zM323 168h2v2h-2zM360 147h2v2h-2zM318 139h2v2h-2zM318 141h2v2h-2zM348 166h2v2h-2zM329 156h2v2h-2zM339 142h2v2h-2zM332 178h2v2h-2zM358 181h2v2h-2zM370 156h2v2h-2zM384 163h2v2h-2zM343 162h2v2h-2zM338 143h2v2h-2zM388 167h2v2h-2zM388 172h2v2h-2zM318 151h2v2h-2zM365 153h2v2h-2zM319 189h2v2h-2zM326 177h2v2h-2zM326 174h2v2h-2zM351 160h2v2h-2zM372 161h2v2h-2zM355 146h2v2h-2zM320 179h2v2h-2zM339 180h2v2h-2zM362 152h2v2h-2zM323 135h2v2h-2zM342 148h2v2h-2zM349 150h2v2h-2zM344 169h2v2h-2zM362 174h2v2h-2zM340 153h2v2h-2zM370 167h2v2h-2zM333 190h2v2h-2zM339 177h2v2h-2zM327 165h2v2h-2zM349 167h2v2h-2zM325 166h2v2h-2zM327 162h2v2h-2zM333 176h2v2h-2zM322 159h2v2h-2zM332 158h2v2h-2zM352 179h2v2h-2zM321 155h2v2h-2zM354 189h2v2h-2zM317 152h2v2h-2zM325 158h2v2h-2zM325 162h2v2h-2zM367 141h2v2h-2zM367 148h2v2h-2zM334 186h2v2h-2zM333 147h2v2h-2zM324 143h2v2h-2zM338 166h2v2h-2zM366 144h2v2h-2zM329 145h2v2h-2zM345 130h2v2h-2zM334 140h2v2h-2zM347 168h2v2h-2zM324 192h2v2h-2zM352 163h2v2h-2zM338 151h2v2h-2zM326 173h2v2h-2zM341 159h2v2h-2zM344 157h2v2h-2zM339 188h2v2h-2zM318 155h2v2h-2zM317 154h2v2h-2zM364 181h2v2h-2zM356 188h2v2h-2zM323 187h2v2h-2zM371 167h2v2h-2zM344 192h2v2h-2zM321 169h2v2h-2zM349 149h2v2h-2zM330 168h2v2h-2zM324 163h2v2h-2zM329 177h2v2h-2zM333 166h2v2h-2zM367 127h2v2h-2zM356 183h2v2h-2zM325 184h2v2h-2zM319 159h2v2h-2zM329 143h2v2h-2zM327 175h2v2h-2zM337 134h2v2h-2zM319 152h2v2h-2zM350 182h2v2h-2zM366 145h2v2h-2zM342 149h2v2h-2zM317 136h2v2h-2zM328 160h2v2h-2zM346 170h2v2h-2zM353 151h2v2h-2zM334 183h2v2h-2zM344 144h2v2h-2zM358 146h2v2h-2zM333 175h2v2h-2zM341 187h2v2h-2zM323 173h2v2h-2zM346 144h2v2h-2zM329 166h2v2h-2zM340 177h2v2h-2zM359 180h2v2h-2zM352 150h2v2h-2zM326 154h2v2h-2zM358 180h2v2h-2zM342 156h2v2h-2zM361 147h2v2h-2zM347 142h2v2h-2zM331 185h2v2h-2zM322 170h2v2h-2zM335 180h2v2h-2zM359 179h2v2h-2zM368 153h2v2h-2zM327 153h2v2h-2zM327 154h2v2h-2zM324 161h2v2h-2zM338 181h2v2h-2zM328 146h2v2h-2zM332 175h2v2h-2zM361 144h2v2h-2zM361 145h2v2h-2zM331 156h2v2h-2zM345 155h2v2h-2zM343 140h2v2h-2zM339 178h2v2h-2zM333 172h2v2h-2zM318 185h2v2h-2zM347 172h2v2h-2zM324 136h2v2h-2zM319 160h2v2h-2zM333 141h2v2h-2zM328 179h2v2h-2zM361 181h2v2h-2zM324 170h2v2h-2zM360 145h2v2h-2zM346 168h2v2h-2zM343 180h2v2h-2zM337 167h2v2h-2zM373 164h2v2h-2zM350 172h2v2h-2zM318 165h2v2h-2zM324 158h2v2h-2zM333 160h2v2h-2zM396 133h2v2h-2zM400 149h2v2h-2zM379 154h2v2h-2zM381 148h2v2h-2zM397 148h2v2h-2zM403 147h2v2h-2zM373 167h2v2h-2zM390 169h2v2h-2zM378 158h2v2h-2zM395 156h2v2h-2zM389 153h2v2h-2zM383 162h2v2h-2zM402 163h2v2h-2zM399 146h2v2h-2zM398 152h2v2h-2zM398 173h2v2h-2zM403 159h2v2h-2zM363 157h2v2h-2zM372 140h2v2h-2zM396 158h2v2h-2zM373 148h2v2h-2zM399 136h2v2h-2zM386 171h2v2h-2zM367 154h2v2h-2zM385 168h2v2h-2zM390 175h2v2h-2zM414 158h2v2h-2zM391 150h2v2h-2zM393 149h2v2h-2zM385 151h2v2h-2zM384 170h2v2h-2zM407 150h2v2h-2zM390 158h2v2h-2zM392 146h2v2h-2zM367 160h2v2h-2zM385 148h2v2h-2zM350 153h2v2h-2zM379 169h2v2h-2zM385 156h2v2h-2zM400 151h2v2h-2zM404 154h2v2h-2zM377 153h2v2h-2zM411 162h2v2h-2zM386 177h2v2h-2zM368 136h2v2h-2zM381 164h2v2h-2zM380 142h2v2h-2zM401 150h2v2h-2zM383 170h2v2h-2zM378 152h2v2h-2zM393 157h2v2h-2zM380 164h2v2h-2zM374 161h2v2h-2zM398 150h2v2h-2zM403 140h2v2h-2zM395 153h2v2h-2zM402 157h2v2h-2zM402 161h2v2h-2zM353 134h2v2h-2zM366 161h2v2h-2zM388 137h2v2h-2zM369 150h2v2h-2zM393 148h2v2h-2zM410 159h2v2h-2zM402 171h2v2h-2zM359 168h2v2h-2zM381 146h2v2h-2zM401 161h2v2h-2zM379 118h2v2h-2zM387 140h2v2h-2zM372 147h2v2h-2zM405 161h2v2h-2zM382 146h2v2h-2zM392 167h2v2h-2zM360 143h2v2h-2zM381 152h2v2h-2zM405 155h2v2h-2zM398 161h2v2h-2zM391 140h2v2h-2zM371 164h2v2h-2zM390 153h2v2h-2zM408 146h2v2h-2zM374 144h2v2h-2zM398 141h2v2h-2zM396 146h2v2h-2zM396 170h2v2h-2zM385 125h2v2h-2zM399 142h2v2h-2zM397 138h2v2h-2zM370 144h2v2h-2zM396 163h2v2h-2zM379 151h2v2h-2zM387 159h2v2h-2zM395 157h2v2h-2zM379 142h2v2h-2zM400 166h2v2h-2zM384 151h2v2h-2zM388 147h2v2h-2zM408 169h2v2h-2zM381 157h2v2h-2zM384 147h2v2h-2zM382 154h2v2h-2zM381 139h2v2h-2zM385 159h2v2h-2zM409 133h2v2h-2zM390 155h2v2h-2zM382 174h2v2h-2zM373 141h2v2h-2zM382 164h2v2h-2zM389 158h2v2h-2zM380 153h2v2h-2zM381 149h2v2h-2zM392 164h2v2h-2zM400 163h2v2h-2zM390 150h2v2h-2zM386 152h2v2h-2zM388 165h2v2h-2zM373 171h2v2h-2zM403 157h2v2h-2zM380 161h2v2h-2zM394 162h2v2h-2zM363 145h2v2h-2zM399 148h2v2h-2zM399 158h2v2h-2zM385 144h2v2h-2zM380 159h2v2h-2zM402 142h2v2h-2zM373 159h2v2h-2zM402 160h2v2h-2zM402 144h2v2h-2zM382 145h2v2h-2zM377 156h2v2h-2zM395 164h2v2h-2zM375 167h2v2h-2zM402 175h2v2h-2zM392 171h2v2h-2zM375 139h2v2h-2zM395 138h2v2h-2zM397 164h2v2h-2zM382 170h2v2h-2zM401 142h2v2h-2zM402 149h2v2h-2zM399 141h2v2h-2zM381 165h2v2h-2zM386 149h2v2h-2zM379 143h2v2h-2zM383 158h2v2h-2zM385 152h2v2h-2zM408 187h2v2h-2zM375 155h2v2h-2zM406 176h2v2h-2zM396 172h2v2h-2zM380 156h2v2h-2zM394 161h2v2h-2zM390 184h2v2h-2zM387 169h2v2h-2zM397 170h2v2h-2zM387 158h2v2h-2zM397 165h2v2h-2zM390 172h2v2h-2zM377 138h2v2h-2zM379 168h2v2h-2zM411 146h2v2h-2zM390 131h2v2h-2zM367 162h2v2h-2zM382 157h2v2h-2zM393 151h2v2h-2zM411 147h2v2h-2zM349 161h2v2h-2zM395 163h2v2h-2zM395 159h2v2h-2zM383 157h2v2h-2zM384 142h2v2h-2zM376 162h2v2h-2zM379 176h2v2h-2zM399 172h2v2h-2zM404 169h2v2h-2zM383 160h2v2h-2zM389 150h2v2h-2zM391 144h2v2h-2zM389 160h2v2h-2zM392 152h2v2h-2zM394 148h2v2h-2zM374 146h2v2h-2zM381 144h2v2h-2zM374 159h2v2h-2zM371 143h2v2h-2zM376 177h2v2h-2zM406 153h2v2h-2zM374 135h2v2h-2zM386 134h2v2h-2zM404 158h2v2h-2zM403 145h2v2h-2zM387 149h2v2h-2zM394 159h2v2h-2zM389 173h2v2h-2zM409 146h2v2h-2zM401 145h2v2h-2zM380 152h2v2h-2zM372 166h2v2h-2zM411 152h2v2h-2zM398 175h2v2h-2zM396 151h2v2h-2zM415 144h2v2h-2zM388 153h2v2h-2zM409 136h2v2h-2zM412 171h2v2h-2zM392 148h2v2h-2zM391 167h2v2h-2zM374 141h2v2h-2zM373 155h2v2h-2zM386 160h2v2h-2zM380 158h2v2h-2zM398 162h2v2h-2zM352 153h2v2h-2zM365 154h2v2h-2zM407 163h2v2h-2zM378 159h2v2h-2zM390 144h2v2h-2zM396 174h2v2h-2zM393 152h2v2h-2zM394 147h2v2h-2zM385 129h2v2h-2zM393 175h2v2h-2zM369 169h2v2h-2zM383 176h2v2h-2zM392 172h2v2h-2zM380 151h2v2h-2zM404 155h2v2h-2zM406 147h2v2h-2zM408 145h2v2h-2zM367 173h2v2h-2zM382 149h2v2h-2zM373 151h2v2h-2zM398 149h2v2h-2zM400 148h2v2h-2zM393 153h2v2h-2zM399 140h2v2h-2zM400 154h2v2h-2zM383 172h2v2h-2zM394 140h2v2h-2zM399 171h2v2h-2zM410 142h2v2h-2zM382 143h2v2h-2zM406 164h2v2h-2zM386 159h2v2h-2zM399 165h2v2h-2zM353 159h2v2h-2zM394 173h2v2h-2zM383 156h2v2h-2zM398 159h2v2h-2zM402 168h2v2h-2zM374 166h2v2h-2zM396 161h2v2h-2zM386 153h2v2h-2zM379 162h2v2h-2zM398 148h2v2h-2zM388 162h2v2h-2zM393 169h2v2h-2zM394 160h2v2h-2zM384 158h2v2h-2zM392 158h2v2h-2zM372 164h2v2h-2zM377 167h2v2h-2zM365 152h2v2h-2zM397 160h2v2h-2zM388 148h2v2h-2zM394 133h2v2h-2zM383 142h2v2h-2zM373 153h2v2h-2zM399 163h2v2h-2zM381 160h2v2h-2zM405 159h2v2h-2zM388 156h2v2h-2zM359 144h2v2h-2zM390 151h2v2h-2zM388 169h2v2h-2zM367 152h2v2h-2zM362 163h2v2h-2zM408 155h2v2h-2zM370 164h2v2h-2zM400 171h2v2h-2zM392 133h2v2h-2zM388 150h2v2h-2zM389 165h2v2h-2zM405 157h2v2h-2zM402 154h2v2h-2zM391 129h2v2h-2zM385 136h2v2h-2zM402 155h2v2h-2zM385 139h2v2h-2zM391 148h2v2h-2zM381 172h2v2h-2zM363 146h2v2h-2zM368 165h2v2h-2zM401 158h2v2h-2zM378 155h2v2h-2zM408 147h2v2h-2zM393 178h2v2h-2zM387 150h2v2h-2zM393 158h2v2h-2zM385 150h2v2h-2zM384 162h2v2h-2zM398 160h2v2h-2zM405 178h2v2h-2zM398 181h2v2h-2zM382 163h2v2h-2zM394 144h2v2h-2zM393 133h2v2h-2zM404 161h2v2h-2zM376 171h2v2h-2zM404 136h2v2h-2zM402 132h2v2h-2zM391 165h2v2h-2zM372 121h2v2h-2zM373 150h2v2h-2zM389 161h2v2h-2zM375 146h2v2h-2zM382 151h2v2h-2zM411 143h2v2h-2zM369 163h2v2h-2zM391 152h2v2h-2zM394 157h2v2h-2zM406 165h2v2h-2zM413 155h2v2h-2zM374 145h2v2h-2zM379 160h2v2h-2zM412 162h2v2h-2zM404 156h2v2h-2zM394 158h2v2h-2zM395 143h2v2h-2zM378 173h2v2h-2zM397 161h2v2h-2zM375 153h2v2h-2zM369 158h2v2h-2zM400 170h2v2h-2zM386 168h2v2h-2zM392 145h2v2h-2zM402 152h2v2h-2zM371 135h2v2h-2zM391 153h2v2h-2zM400 187h2v2h-2zM383 166h2v2h-2zM380 140h2v2h-2zM382 136h2v2h-2zM378 150h2v2h-2zM387 141h2v2h-2zM384 166h2v2h-2zM377 162h2v2h-2zM385 135h2v2h-2zM412 180h2v2h-2zM409 162h2v2h-2zM403 150h2v2h-2zM374 154h2v2h-2zM364 170h2v2h-2zM396 154h2v2h-2zM389 151h2v2h-2zM406 160h2v2h-2zM397 141h2v2h-2zM353 170h2v2h-2zM377 157h2v2h-2zM387 168h2v2h-2zM373 149h2v2h-2zM374 130h2v2h-2zM357 165h2v2h-2zM391 162h2v2h-2zM384 154h2v2h-2zM370 155h2v2h-2zM392 162h2v2h-2zM374 174h2v2h-2zM348 167h2v2h-2zM381 154h2v2h-2zM382 167h2v2h-2zM403 162h2v2h-2zM407 157h2v2h-2zM393 144h2v2h-2zM384 130h2v2h-2zM383 159h2v2h-2zM385 171h2v2h-2zM408 143h2v2h-2zM411 181h2v2h-2zM400 189h2v2h-2zM360 168h2v2h-2zM330 189h2v2h-2zM345 149h2v2h-2zM341 148h2v2h-2zM332 191h2v2h-2zM344 147h2v2h-2zM330 179h2v2h-2zM327 186h2v2h-2zM356 155h2v2h-2zM325 175h2v2h-2zM376 156h2v2h-2zM386 163h2v2h-2zM376 150h2v2h-2zM372 154h2v2h-2zM342 193h2v2h-2zM346 180h2v2h-2zM340 190h2v2h-2zM408 149h2v2h-2zM376 163h2v2h-2zM342 183h2v2h-2zM319 148h2v2h-2zM410 180h2v2h-2zM405 186h2v2h-2zM322 185h2v2h-2zM348 150h2v2h-2zM390 147h2v2h-2zM350 179h2v2h-2zM377 182h2v2h-2zM395 176h2v2h-2zM317 169h2v2h-2zM397 151h2v2h-2zM406 150h2v2h-2zM379 181h2v2h-2zM349 186h2v2h-2zM375 169h2v2h-2zM360 192h2v2h-2zM369 178h2v2h-2zM392 188h2v2h-2zM335 153h2v2h-2zM392 156h2v2h-2zM334 145h2v2h-2zM364 168h2v2h-2zM335 190h2v2h-2zM402 188h2v2h-2zM328 157h2v2h-2zM319 174h2v2h-2zM374 179h2v2h-2zM343 190h2v2h-2zM348 180h2v2h-2zM383 184h2v2h-2zM367 161h2v2h-2zM401 173h2v2h-2zM344 149h2v2h-2zM337 146h2v2h-2zM325 189h2v2h-2zM409 178h2v2h-2zM399 166h2v2h-2zM383 164h2v2h-2zM317 164h2v2h-2zM410 153h2v2h-2zM365 172h2v2h-2zM383 149h2v2h-2zM407 155h2v2h-2zM396 169h2v2h-2zM380 148h2v2h-2zM333 144h2v2h-2zM348 179h2v2h-2zM318 173h2v2h-2zM383 147h2v2h-2zM394 177h2v2h-2zM381 188h2v2h-2zM374 150h2v2h-2zM371 163h2v2h-2zM349 181h2v2h-2zM317 180h2v2h-2zM318 160h2v2h-2zM322 164h2v2h-2zM339 176h2v2h-2zM357 179h2v2h-2zM337 172h2v2h-2zM366 190h2v2h-2zM329 187h2v2h-2zM396 186h2v2h-2zM321 176h2v2h-2zM321 190h2v2h-2zM330 163h2v2h-2zM362 172h2v2h-2zM330 147h2v2h-2zM321 159h2v2h-2zM362 169h2v2h-2zM355 189h2v2h-2zM350 159h2v2h-2zM410 146h2v2h-2zM387 174h2v2h-2zM375 168h2v2h-2zM356 154h2v2h-2zM373 161h2v2h-2zM377 180h2v2h-2zM374 170h2v2h-2zM357 157h2v2h-2zM352 162h2v2h-2zM373 178h2v2h-2zM384 176h2v2h-2zM320 186h2v2h-2zM403 185h2v2h-2zM333 146h2v2h-2zM321 182h2v2h-2zM357 166h2v2h-2zM410 172h2v2h-2zM358 167h2v2h-2zM367 169h2v2h-2zM346 179h2v2h-2zM363 179h2v2h-2zM380 165h2v2h-2zM362 159h2v2h-2zM408 189h2v2h-2zM396 164h2v2h-2zM376 183h2v2h-2zM339 174h2v2h-2zM329 181h2v2h-2zM384 159h2v2h-2zM368 167h2v2h-2zM335 191h2v2h-2zM397 190h2v2h-2zM376 143h2v2h-2zM349 169h2v2h-2zM339 145h2v2h-2zM379 188h2v2h-2zM332 163h2v2h-2zM405 148h2v2h-2zM341 144h2v2h-2zM407 159h2v2h-2zM326 163h2v2h-2zM355 188h2v2h-2zM334 160h2v2h-2zM335 176h2v2h-2zM330 169h2v2h-2zM362 188h2v2h-2zM320 176h2v2h-2zM343 185h2v2h-2zM365 193h2v2h-2zM398 188h2v2h-2zM379 147h2v2h-2zM351 184h2v2h-2zM405 168h2v2h-2zM356 147h2v2h-2zM391 157h2v2h-2zM328 159h2v2h-2zM348 146h2v2h-2zM403 191h2v2h-2zM351 186h2v2h-2zM351 161h2v2h-2zM328 187h2v2h-2zM392 178h2v2h-2zM353 191h2v2h-2zM376 167h2v2h-2zM382 159h2v2h-2zM332 181h2v2h-2zM343 186h2v2h-2zM322 157h2v2h-2zM389 149h2v2h-2zM340 181h2v2h-2zM366 183h2v2h-2zM397 168h2v2h-2zM345 180h2v2h-2zM326 170h2v2h-2zM343 142h2v2h-2zM322 192h2v2h-2zM404 150h2v2h-2zM323 144h2v2h-2zM399 151h2v2h-2zM371 157h2v2h-2zM355 192h2v2h-2zM386 184h2v2h-2zM375 174h2v2h-2zM353 187h2v2h-2zM382 173h2v2h-2zM325 183h2v2h-2zM340 179h2v2h-2zM372 169h2v2h-2zM364 148h2v2h-2zM404 147h2v2h-2zM371 181h2v2h-2zM372 182h2v2h-2zM366 189h2v2h-2zM363 165h2v2h-2zM364 153h2v2h-2zM321 172h2v2h-2zM391 168h2v2h-2zM331 149h2v2h-2zM395 145h2v2h-2zM398 177h2v2h-2zM395 171h2v2h-2zM363 190h2v2h-2zM326 176h2v2h-2zM401 162h2v2h-2zM389 181h2v2h-2zM390 160h2v2h-2zM374 181h2v2h-2zM320 184h2v2h-2zM318 164h2v2h-2zM358 163h2v2h-2zM367 179h2v2h-2zM393 193h2v2h-2zM396 92h2v2h-2zM388 83h2v2h-2zM408 65h2v2h-2zM395 73h2v2h-2zM410 98h2v2h-2zM400 67h2v2h-2zM395 71h2v2h-2zM399 65h2v2h-2zM411 61h2v2h-2zM396 65h2v2h-2zM394 89h2v2h-2zM402 101h2v2h-2zM400 101h2v2h-2zM407 73h2v2h-2zM403 92h2v2h-2zM403 89h2v2h-2zM402 90h2v2h-2zM397 70h2v2h-2zM395 84h2v2h-2zM405 117h2v2h-2zM407 65h2v2h-2zM403 94h2v2h-2zM389 71h2v2h-2zM401 77h2v2h-2zM396 93h2v2h-2zM403 97h2v2h-2zM398 81h2v2h-2zM400 95h2v2h-2zM405 69h2v2h-2zM386 89h2v2h-2zM401 68h2v2h-2zM396 52h2v2h-2zM387 57h2v2h-2zM388 74h2v2h-2zM387 79h2v2h-2zM400 86h2v2h-2zM378 80h2v2h-2zM389 65h2v2h-2zM395 67h2v2h-2zM391 58h2v2h-2zM399 89h2v2h-2zM399 68h2v2h-2zM403 91h2v2h-2zM400 77h2v2h-2zM406 68h2v2h-2zM390 88h2v2h-2zM405 81h2v2h-2zM388 78h2v2h-2zM412 64h2v2h-2zM403 72h2v2h-2zM402 72h2v2h-2zM413 96h2v2h-2zM395 78h2v2h-2zM400 75h2v2h-2zM398 66h2v2h-2zM397 71h2v2h-2zM398 86h2v2h-2zM390 77h2v2h-2zM395 70h2v2h-2zM388 54h2v2h-2zM401 79h2v2h-2zM404 75h2v2h-2zM393 86h2v2h-2zM408 64h2v2h-2zM396 99h2v2h-2zM404 89h2v2h-2zM398 63h2v2h-2zM390 76h2v2h-2zM397 75h2v2h-2zM407 84h2v2h-2zM390 83h2v2h-2zM402 66h2v2h-2zM386 74h2v2h-2zM393 97h2v2h-2zM390 115h2v2h-2zM401 65h2v2h-2zM396 70h2v2h-2zM404 86h2v2h-2zM395 88h2v2h-2zM416 76h2v2h-2zM396 72h2v2h-2zM399 62h2v2h-2zM401 84h2v2h-2zM403 70h2v2h-2zM387 70h2v2h-2zM396 66h2v2h-2zM397 88h2v2h-2zM391 95h2v2h-2zM386 91h2v2h-2zM394 85h2v2h-2zM386 60h2v2h-2zM389 70h2v2h-2zM393 75h2v2h-2zM397 61h2v2h-2zM406 88h2v2h-2zM404 99h2v2h-2zM396 51h2v2h-2zM396 76h2v2h-2zM406 63h2v2h-2zM402 68h2v2h-2zM392 68h2v2h-2zM408 74h2v2h-2zM396 81h2v2h-2zM401 88h2v2h-2zM384 86h2v2h-2zM397 73h2v2h-2zM403 79h2v2h-2zM401 91h2v2h-2zM390 98h2v2h-2zM398 67h2v2h-2zM401 92h2v2h-2zM398 83h2v2h-2zM389 87h2v2h-2zM403 58h2v2h-2zM401 66h2v2h-2zM390 63h2v2h-2zM392 66h2v2h-2zM406 96h2v2h-2zM400 93h2v2h-2zM386 79h2v2h-2zM400 80h2v2h-2zM403 90h2v2h-2zM404 85h2v2h-2zM396 78h2v2h-2zM390 75h2v2h-2zM400 87h2v2h-2zM386 83h2v2h-2zM392 60h2v2h-2zM399 76h2v2h-2zM402 92h2v2h-2zM409 86h2v2h-2zM383 56h2v2h-2zM402 61h2v2h-2zM395 89h2v2h-2zM406 76h2v2h-2zM401 52h2v2h-2zM407 86h2v2h-2zM389 72h2v2h-2zM409 65h2v2h-2zM406 87h2v2h-2zM406 55h2v2h-2zM398 87h2v2h-2zM394 61h2v2h-2zM384 90h2v2h-2zM409 95h2v2h-2zM400 79h2v2h-2zM414 73h2v2h-2zM398 57h2v2h-2zM408 67h2v2h-2zM410 84h2v2h-2zM391 81h2v2h-2zM402 97h2v2h-2zM400 76h2v2h-2zM410 89h2v2h-2zM394 83h2v2h-2zM395 79h2v2h-2zM391 93h2v2h-2zM393 87h2v2h-2zM383 87h2v2h-2zM397 78h2v2h-2zM395 92h2v2h-2zM387 89h2v2h-2zM395 59h2v2h-2zM388 73h2v2h-2zM404 83h2v2h-2zM411 83h2v2h-2zM403 83h2v2h-2zM402 87h2v2h-2zM408 71h2v2h-2zM392 58h2v2h-2zM401 86h2v2h-2zM394 69h2v2h-2zM404 92h2v2h-2zM397 77h2v2h-2zM407 74h2v2h-2zM401 71h2v2h-2zM403 99h2v2h-2zM394 80h2v2h-2zM408 69h2v2h-2zM401 87h2v2h-2zM402 77h2v2h-2zM405 83h2v2h-2zM407 63h2v2h-2zM402 79h2v2h-2zM389 81h2v2h-2zM395 72h2v2h-2zM392 98h2v2h-2zM391 73h2v2h-2zM408 83h2v2h-2zM392 62h2v2h-2zM398 62h2v2h-2zM398 72h2v2h-2zM399 81h2v2h-2zM409 53h2v2h-2zM395 83h2v2h-2zM392 93h2v2h-2zM408 81h2v2h-2zM416 83h2v2h-2zM399 69h2v2h-2zM408 102h2v2h-2zM401 89h2v2h-2zM402 105h2v2h-2zM407 72h2v2h-2zM393 77h2v2h-2zM408 61h2v2h-2zM389 82h2v2h-2zM384 85h2v2h-2zM406 106h2v2h-2zM397 76h2v2h-2zM402 84h2v2h-2zM392 59h2v2h-2zM394 54h2v2h-2zM391 69h2v2h-2zM386 63h2v2h-2zM392 82h2v2h-2zM392 86h2v2h-2zM404 49h2v2h-2zM403 74h2v2h-2zM388 96h2v2h-2zM394 93h2v2h-2zM397 83h2v2h-2zM403 106h2v2h-2zM399 78h2v2h-2zM380 75h2v2h-2zM394 84h2v2h-2zM393 85h2v2h-2zM401 78h2v2h-2zM388 89h2v2h-2zM391 63h2v2h-2zM394 82h2v2h-2zM402 81h2v2h-2zM397 68h2v2h-2zM405 80h2v2h-2zM395 98h2v2h-2zM393 65h2v2h-2zM410 82h2v2h-2zM395 69h2v2h-2zM410 81h2v2h-2zM393 110h2v2h-2zM395 82h2v2h-2zM403 66h2v2h-2zM387 64h2v2h-2zM413 82h2v2h-2zM394 90h2v2h-2zM396 89h2v2h-2zM406 70h2v2h-2zM403 86h2v2h-2zM404 98h2v2h-2zM404 101h2v2h-2zM392 74h2v2h-2zM405 59h2v2h-2zM400 94h2v2h-2zM399 79h2v2h-2zM407 81h2v2h-2zM400 63h2v2h-2zM398 65h2v2h-2zM403 82h2v2h-2zM396 86h2v2h-2zM408 84h2v2h-2zM401 90h2v2h-2zM399 73h2v2h-2zM410 60h2v2h-2zM385 70h2v2h-2zM394 79h2v2h-2zM387 84h2v2h-2zM402 70h2v2h-2zM394 103h2v2h-2zM398 58h2v2h-2zM392 89h2v2h-2zM397 74h2v2h-2zM390 90h2v2h-2zM407 79h2v2h-2zM396 84h2v2h-2zM388 79h2v2h-2zM393 72h2v2h-2zM408 104h2v2h-2zM404 79h2v2h-2zM391 66h2v2h-2zM397 89h2v2h-2zM406 86h2v2h-2zM390 55h2v2h-2zM390 66h2v2h-2zM403 73h2v2h-2zM387 77h2v2h-2zM394 52h2v2h-2zM404 91h2v2h-2zM389 58h2v2h-2zM404 72h2v2h-2zM406 66h2v2h-2zM396 83h2v2h-2zM393 74h2v2h-2zM417 62h2v2h-2zM390 87h2v2h-2zM396 87h2v2h-2zM380 76h2v2h-2zM406 65h2v2h-2zM401 101h2v2h-2zM400 70h2v2h-2zM396 95h2v2h-2zM400 69h2v2h-2zM386 72h2v2h-2zM392 52h2v2h-2zM409 73h2v2h-2zM399 70h2v2h-2zM391 88h2v2h-2zM405 68h2v2h-2zM394 73h2v2h-2zM398 74h2v2h-2zM385 76h2v2h-2zM391 75h2v2h-2zM389 73h2v2h-2zM399 86h2v2h-2zM398 85h2v2h-2zM390 91h2v2h-2zM394 96h2v2h-2zM406 77h2v2h-2zM395 93h2v2h-2zM402 62h2v2h-2zM395 80h2v2h-2zM401 63h2v2h-2zM394 76h2v2h-2zM410 78h2v2h-2zM405 76h2v2h-2zM392 101h2v2h-2zM400 85h2v2h-2zM396 79h2v2h-2zM403 56h2v2h-2zM383 50h2v2h-2zM393 73h2v2h-2zM404 87h2v2h-2zM393 89h2v2h-2zM393 79h2v2h-2zM392 84h2v2h-2zM397 95h2v2h-2zM389 88h2v2h-2zM407 93h2v2h-2zM389 50h2v2h-2zM393 80h2v2h-2zM398 90h2v2h-2zM398 78h2v2h-2zM395 99h2v2h-2zM401 70h2v2h-2zM394 67h2v2h-2zM392 83h2v2h-2zM389 66h2v2h-2zM404 69h2v2h-2zM395 101h2v2h-2zM403 84h2v2h-2zM408 70h2v2h-2zM382 80h2v2h-2zM403 85h2v2h-2zM401 61h2v2h-2zM398 71h2v2h-2zM392 77h2v2h-2zM409 87h2v2h-2zM397 85h2v2h-2zM391 74h2v2h-2zM405 94h2v2h-2zM400 49h2v2h-2zM390 67h2v2h-2zM393 78h2v2h-2zM397 55h2v2h-2zM395 112h2v2h-2zM384 99h2v2h-2zM406 67h2v2h-2zM390 84h2v2h-2zM400 61h2v2h-2zM400 74h2v2h-2zM402 118h2v2h-2zM406 94h2v2h-2zM388 69h2v2h-2zM405 112h2v2h-2zM400 112h2v2h-2zM391 68h2v2h-2zM405 98h2v2h-2zM407 90h2v2h-2zM388 94h2v2h-2zM386 115h2v2h-2zM394 68h2v2h-2zM404 84h2v2h-2zM409 91h2v2h-2zM411 56h2v2h-2zM398 77h2v2h-2zM403 59h2v2h-2zM406 81h2v2h-2zM396 60h2v2h-2zM400 54h2v2h-2zM392 67h2v2h-2zM398 82h2v2h-2zM399 91h2v2h-2zM415 85h2v2h-2zM394 81h2v2h-2zM394 72h2v2h-2zM397 72h2v2h-2zM392 87h2v2h-2zM386 56h2v2h-2zM400 64h2v2h-2zM395 91h2v2h-2zM402 83h2v2h-2zM399 82h2v2h-2zM418 100h2v2h-2zM387 71h2v2h-2zM382 65h2v2h-2zM388 80h2v2h-2zM403 87h2v2h-2zM398 93h2v2h-2zM399 94h2v2h-2zM393 76h2v2h-2zM405 75h2v2h-2zM396 58h2v2h-2zM385 82h2v2h-2zM401 72h2v2h-2zM382 62h2v2h-2zM392 88h2v2h-2zM393 82h2v2h-2zM399 87h2v2h-2zM395 87h2v2h-2zM398 68h2v2h-2zM390 52h2v2h-2zM407 67h2v2h-2zM406 71h2v2h-2zM402 78h2v2h-2zM377 56h2v2h-2zM398 64h2v2h-2zM410 71h2v2h-2zM410 96h2v2h-2zM406 107h2v2h-2zM401 82h2v2h-2zM406 69h2v2h-2zM388 65h2v2h-2zM392 73h2v2h-2zM384 84h2v2h-2zM404 81h2v2h-2zM397 100h2v2h-2zM404 77h2v2h-2zM390 69h2v2h-2zM375 135h2v2h-2zM415 139h2v2h-2zM383 61h2v2h-2zM410 105h2v2h-2zM409 89h2v2h-2zM417 103h2v2h-2zM408 78h2v2h-2zM382 114h2v2h-2zM406 133h2v2h-2zM387 68h2v2h-2zM381 68h2v2h-2zM414 133h2v2h-2zM405 52h2v2h-2zM416 132h2v2h-2zM382 85h2v2h-2zM386 100h2v2h-2zM394 112h2v2h-2zM402 140h2v2h-2zM406 80h2v2h-2zM407 109h2v2h-2zM386 138h2v2h-2zM376 141h2v2h-2zM383 53h2v2h-2zM377 123h2v2h-2zM384 112h2v2h-2zM376 138h2v2h-2zM414 96h2v2h-2zM409 139h2v2h-2zM381 90h2v2h-2zM377 64h2v2h-2zM389 96h2v2h-2zM408 123h2v2h-2zM382 70h2v2h-2zM385 102h2v2h-2zM399 84h2v2h-2zM385 80h2v2h-2zM400 118h2v2h-2zM411 103h2v2h-2zM411 57h2v2h-2zM378 111h2v2h-2zM388 126h2v2h-2zM409 69h2v2h-2zM401 136h2v2h-2zM379 74h2v2h-2zM389 123h2v2h-2zM376 126h2v2h-2zM418 96h2v2h-2zM415 77h2v2h-2zM419 129h2v2h-2zM374 138h2v2h-2zM394 116h2v2h-2zM390 59h2v2h-2zM408 97h2v2h-2zM385 63h2v2h-2zM384 135h2v2h-2zM401 128h2v2h-2zM419 51h2v2h-2zM380 112h2v2h-2zM418 140h2v2h-2zM377 105h2v2h-2zM403 141h2v2h-2zM373 87h2v2h-2zM381 101h2v2h-2zM400 108h2v2h-2zM402 86h2v2h-2zM378 62h2v2h-2zM379 140h2v2h-2zM404 82h2v2h-2zM416 58h2v2h-2zM398 118h2v2h-2zM389 130h2v2h-2zM403 119h2v2h-2zM378 100h2v2h-2zM389 139h2v2h-2zM414 129h2v2h-2zM389 101h2v2h-2zM397 118h2v2h-2zM409 117h2v2h-2zM374 73h2v2h-2zM414 118h2v2h-2zM388 60h2v2h-2zM417 108h2v2h-2zM405 90h2v2h-2zM399 80h2v2h-2zM375 52h2v2h-2zM411 133h2v2h-2zM374 114h2v2h-2zM373 66h2v2h-2zM376 127h2v2h-2zM379 53h2v2h-2zM412 123h2v2h-2zM375 73h2v2h-2zM391 92h2v2h-2zM377 78h2v2h-2zM407 131h2v2h-2zM401 75h2v2h-2zM415 87h2v2h-2zM378 119h2v2h-2zM388 75h2v2h-2zM410 72h2v2h-2zM385 87h2v2h-2zM378 132h2v2h-2zM386 61h2v2h-2zM406 84h2v2h-2zM383 92h2v2h-2zM407 88h2v2h-2zM390 120h2v2h-2zM406 111h2v2h-2zM416 134h2v2h-2zM408 110h2v2h-2zM411 126h2v2h-2zM406 135h2v2h-2zM378 52h2v2h-2zM375 80h2v2h-2zM391 114h2v2h-2zM401 83h2v2h-2zM391 96h2v2h-2zM414 52h2v2h-2zM404 73h2v2h-2zM392 72h2v2h-2zM401 117h2v2h-2zM386 87h2v2h-2zM373 109h2v2h-2zM377 74h2v2h-2zM400 115h2v2h-2zM375 88h2v2h-2zM404 54h2v2h-2zM381 72h2v2h-2zM415 103h2v2h-2zM373 135h2v2h-2zM375 58h2v2h-2zM395 100h2v2h-2zM380 79h2v2h-2zM377 85h2v2h-2zM393 62h2v2h-2zM397 126h2v2h-2zM409 88h2v2h-2zM391 61h2v2h-2zM391 106h2v2h-2zM405 118h2v2h-2zM382 64h2v2h-2zM409 54h2v2h-2zM381 88h2v2h-2zM383 95h2v2h-2zM414 111h2v2h-2zM366 120h2v2h-2zM406 103h2v2h-2zM381 81h2v2h-2zM398 101h2v2h-2zM419 127h2v2h-2zM391 123h2v2h-2zM397 108h2v2h-2zM407 113h2v2h-2zM390 138h2v2h-2zM398 95h2v2h-2zM387 115h2v2h-2zM403 107h2v2h-2zM399 124h2v2h-2zM412 117h2v2h-2zM390 64h2v2h-2zM376 106h2v2h-2zM418 146h2v2h-2zM400 120h2v2h-2zM396 130h2v2h-2zM401 76h2v2h-2zM380 100h2v2h-2zM379 64h2v2h-2zM410 126h2v2h-2zM400 84h2v2h-2zM400 117h2v2h-2zM382 108h2v2h-2zM409 80h2v2h-2zM395 102h2v2h-2zM398 123h2v2h-2zM388 86h2v2h-2zM400 78h2v2h-2zM394 95h2v2h-2zM390 70h2v2h-2zM382 111h2v2h-2zM396 120h2v2h-2zM381 73h2v2h-2zM419 70h2v2h-2zM391 137h2v2h-2zM388 72h2v2h-2zM423 87h2v2h-2zM372 87h2v2h-2zM382 140h2v2h-2zM401 126h2v2h-2zM382 122h2v2h-2zM391 71h2v2h-2zM397 144h2v2h-2zM398 96h2v2h-2zM403 115h2v2h-2zM397 80h2v2h-2zM383 78h2v2h-2zM379 99h2v2h-2zM405 85h2v2h-2zM395 130h2v2h-2zM398 130h2v2h-2zM395 110h2v2h-2zM391 97h2v2h-2zM382 90h2v2h-2zM389 107h2v2h-2zM385 117h2v2h-2zM384 115h2v2h-2zM388 119h2v2h-2zM385 49h2v2h-2zM384 114h2v2h-2zM393 131h2v2h-2zM401 138h2v2h-2zM372 109h2v2h-2zM392 99h2v2h-2zM405 88h2v2h-2zM409 105h2v2h-2zM414 59h2v2h-2zM396 56h2v2h-2zM407 101h2v2h-2zM382 95h2v2h-2zM390 114h2v2h-2zM396 103h2v2h-2zM394 97h2v2h-2zM393 64h2v2h-2zM391 51h2v2h-2zM383 86h2v2h-2zM387 116h2v2h-2zM388 155h2v2h-2zM400 157h2v2h-2zM392 102h2v2h-2zM390 61h2v2h-2zM399 101h2v2h-2zM376 51h2v2h-2zM400 114h2v2h-2zM420 108h2v2h-2zM395 60h2v2h-2zM384 119h2v2h-2zM393 129h2v2h-2zM412 166h2v2h-2zM409 108h2v2h-2zM392 122h2v2h-2zM365 151h2v2h-2zM413 92h2v2h-2zM374 86h2v2h-2zM386 156h2v2h-2zM394 126h2v2h-2zM390 109h2v2h-2zM407 83h2v2h-2zM393 96h2v2h-2zM405 125h2v2h-2zM378 65h2v2h-2zM391 118h2v2h-2zM375 158h2v2h-2zM397 97h2v2h-2zM409 99h2v2h-2zM377 94h2v2h-2zM382 113h2v2h-2zM389 117h2v2h-2zM376 133h2v2h-2zM389 95h2v2h-2zM383 130h2v2h-2zM369 143h2v2h-2zM411 74h2v2h-2zM395 114h2v2h-2zM404 145h2v2h-2zM410 107h2v2h-2zM407 80h2v2h-2zM406 137h2v2h-2zM401 110h2v2h-2zM364 103h2v2h-2zM385 128h2v2h-2zM386 93h2v2h-2zM393 115h2v2h-2zM388 64h2v2h-2zM412 133h2v2h-2zM378 93h2v2h-2zM383 133h2v2h-2zM394 86h2v2h-2zM412 63h2v2h-2zM392 109h2v2h-2zM412 127h2v2h-2zM373 75h2v2h-2zM396 100h2v2h-2zM405 106h2v2h-2zM381 75h2v2h-2zM410 66h2v2h-2zM407 123h2v2h-2zM391 120h2v2h-2zM390 111h2v2h-2zM401 105h2v2h-2zM379 112h2v2h-2zM386 151h2v2h-2zM375 74h2v2h-2zM376 77h2v2h-2zM393 104h2v2h-2zM406 114h2v2h-2zM412 116h2v2h-2zM417 81h2v2h-2zM401 104h2v2h-2zM387 102h2v2h-2zM403 124h2v2h-2zM400 102h2v2h-2zM386 90h2v2h-2zM416 96h2v2h-2zM379 102h2v2h-2zM400 131h2v2h-2zM399 177h2v2h-2zM372 151h2v2h-2zM410 73h2v2h-2zM408 93h2v2h-2zM402 115h2v2h-2zM389 110h2v2h-2zM409 59h2v2h-2zM411 120h2v2h-2zM403 108h2v2h-2zM381 80h2v2h-2zM382 139h2v2h-2zM406 110h2v2h-2zM378 97h2v2h-2zM395 103h2v2h-2zM389 109h2v2h-2zM393 127h2v2h-2zM410 76h2v2h-2zM395 121h2v2h-2zM407 71h2v2h-2zM384 62h2v2h-2zM403 117h2v2h-2zM377 115h2v2h-2zM392 94h2v2h-2zM376 59h2v2h-2zM380 101h2v2h-2zM392 56h2v2h-2zM381 110h2v2h-2zM394 119h2v2h-2zM430 112h2v2h-2zM404 66h2v2h-2zM383 113h2v2h-2zM381 89h2v2h-2zM388 88h2v2h-2zM386 66h2v2h-2zM413 60h2v2h-2zM396 109h2v2h-2zM384 146h2v2h-2zM385 71h2v2h-2zM378 117h2v2h-2zM405 113h2v2h-2zM413 70h2v2h-2zM391 113h2v2h-2zM397 104h2v2h-2zM402 106h2v2h-2zM381 100h2v2h-2zM387 54h2v2h-2zM409 116h2v2h-2zM383 90h2v2h-2zM395 115h2v2h-2zM396 149h2v2h-2zM392 132h2v2h-2zM385 58h2v2h-2zM419 91h2v2h-2zM405 92h2v2h-2zM392 100h2v2h-2zM380 70h2v2h-2zM403 98h2v2h-2zM387 126h2v2h-2zM390 65h2v2h-2zM391 85h2v2h-2zM426 112h2v2h-2zM396 125h2v2h-2zM377 88h2v2h-2zM394 130h2v2h-2zM375 109h2v2h-2zM404 102h2v2h-2zM417 64h2v2h-2zM397 142h2v2h-2zM399 92h2v2h-2zM418 134h2v2h-2zM408 95h2v2h-2zM401 127h2v2h-2zM393 91h2v2h-2zM404 123h2v2h-2zM398 98h2v2h-2zM382 103h2v2h-2zM402 138h2v2h-2zM373 98h2v2h-2zM374 98h2v2h-2zM405 132h2v2h-2zM373 93h2v2h-2zM399 108h2v2h-2zM417 142h2v2h-2zM390 113h2v2h-2zM392 176h2v2h-2zM396 123h2v2h-2zM411 113h2v2h-2zM396 116h2v2h-2zM399 100h2v2h-2zM380 92h2v2h-2zM369 86h2v2h-2zM407 89h2v2h-2zM396 105h2v2h-2zM399 72h2v2h-2zM389 121h2v2h-2zM391 80h2v2h-2zM395 74h2v2h-2zM403 112h2v2h-2zM397 50h2v2h-2zM390 81h2v2h-2zM405 114h2v2h-2zM403 110h2v2h-2zM403 71h2v2h-2zM384 56h2v2h-2zM388 112h2v2h-2zM382 73h2v2h-2zM360 122h2v2h-2zM409 142h2v2h-2zM389 175h2v2h-2zM386 81h2v2h-2zM391 119h2v2h-2zM402 95h2v2h-2zM397 111h2v2h-2zM406 61h2v2h-2zM394 105h2v2h-2zM394 122h2v2h-2zM420 158h2v2h-2zM399 99h2v2h-2zM406 95h2v2h-2zM387 118h2v2h-2zM368 111h2v2h-2zM413 91h2v2h-2zM409 72h2v2h-2zM404 121h2v2h-2zM388 101h2v2h-2zM406 83h2v2h-2zM389 119h2v2h-2zM382 127h2v2h-2zM388 93h2v2h-2zM361 95h2v2h-2zM410 94h2v2h-2zM412 119h2v2h-2zM384 125h2v2h-2zM398 94h2v2h-2zM383 107h2v2h-2zM396 132h2v2h-2zM408 126h2v2h-2zM380 113h2v2h-2zM377 126h2v2h-2zM384 100h2v2h-2zM396 107h2v2h-2zM399 125h2v2h-2zM408 124h2v2h-2zM376 104h2v2h-2zM388 129h2v2h-2zM414 63h2v2h-2zM370 83h2v2h-2zM389 115h2v2h-2zM398 138h2v2h-2zM393 107h2v2h-2zM377 80h2v2h-2zM374 68h2v2h-2zM403 104h2v2h-2zM415 131h2v2h-2zM401 116h2v2h-2zM387 80h2v2h-2zM417 101h2v2h-2zM383 119h2v2h-2zM392 129h2v2h-2zM391 79h2v2h-2zM378 88h2v2h-2zM408 118h2v2h-2zM392 113h2v2h-2zM372 92h2v2h-2zM386 117h2v2h-2zM405 140h2v2h-2zM383 134h2v2h-2zM382 105h2v2h-2zM396 108h2v2h-2zM389 93h2v2h-2zM384 106h2v2h-2zM402 100h2v2h-2zM417 114h2v2h-2zM391 94h2v2h-2zM388 71h2v2h-2zM393 60h2v2h-2zM401 103h2v2h-2zM402 108h2v2h-2zM369 111h2v2h-2zM395 122h2v2h-2zM398 91h2v2h-2zM397 90h2v2h-2zM393 103h2v2h-2zM393 98h2v2h-2zM405 141h2v2h-2zM392 90h2v2h-2zM387 76h2v2h-2zM407 112h2v2h-2zM380 71h2v2h-2zM391 174h2v2h-2zM391 83h2v2h-2zM388 118h2v2h-2zM378 131h2v2h-2zM381 65h2v2h-2zM402 109h2v2h-2zM384 102h2v2h-2zM384 96h2v2h-2zM382 123h2v2h-2zM383 136h2v2h-2zM379 97h2v2h-2zM409 98h2v2h-2zM405 84h2v2h-2zM386 143h2v2h-2zM405 116h2v2h-2zM389 116h2v2h-2zM371 90h2v2h-2zM394 163h2v2h-2zM384 117h2v2h-2zM386 104h2v2h-2zM385 72h2v2h-2zM336 63h2v2h-2zM392 64h2v2h-2zM364 95h2v2h-2zM366 89h2v2h-2zM337 89h2v2h-2zM358 76h2v2h-2zM364 82h2v2h-2zM341 94h2v2h-2zM341 113h2v2h-2zM359 103h2v2h-2zM391 87h2v2h-2zM355 74h2v2h-2zM374 83h2v2h-2zM368 95h2v2h-2zM372 79h2v2h-2zM365 75h2v2h-2zM345 91h2v2h-2zM331 106h2v2h-2zM364 90h2v2h-2zM362 90h2v2h-2zM363 98h2v2h-2zM362 113h2v2h-2zM349 83h2v2h-2zM370 92h2v2h-2zM374 108h2v2h-2zM350 108h2v2h-2zM366 76h2v2h-2zM359 81h2v2h-2zM351 69h2v2h-2zM348 92h2v2h-2zM335 86h2v2h-2zM360 130h2v2h-2zM346 105h2v2h-2zM353 79h2v2h-2zM351 78h2v2h-2zM366 55h2v2h-2zM383 68h2v2h-2zM370 98h2v2h-2zM344 97h2v2h-2zM335 96h2v2h-2zM359 102h2v2h-2zM370 115h2v2h-2zM377 97h2v2h-2zM366 102h2v2h-2zM341 86h2v2h-2zM375 85h2v2h-2zM358 99h2v2h-2zM357 81h2v2h-2zM340 99h2v2h-2zM368 77h2v2h-2zM352 77h2v2h-2zM348 113h2v2h-2zM372 95h2v2h-2zM346 63h2v2h-2zM350 77h2v2h-2zM356 100h2v2h-2zM354 98h2v2h-2zM343 79h2v2h-2zM347 87h2v2h-2zM370 97h2v2h-2zM354 92h2v2h-2zM338 70h2v2h-2zM355 83h2v2h-2zM369 112h2v2h-2zM362 99h2v2h-2zM355 89h2v2h-2zM380 80h2v2h-2zM368 74h2v2h-2zM354 94h2v2h-2zM356 106h2v2h-2zM369 76h2v2h-2zM371 63h2v2h-2zM384 104h2v2h-2zM367 85h2v2h-2zM326 84h2v2h-2zM356 64h2v2h-2zM365 97h2v2h-2zM338 68h2v2h-2zM350 92h2v2h-2zM355 88h2v2h-2zM367 75h2v2h-2zM352 73h2v2h-2zM358 89h2v2h-2zM358 97h2v2h-2zM368 90h2v2h-2zM342 88h2v2h-2zM348 72h2v2h-2zM367 100h2v2h-2zM354 91h2v2h-2zM368 89h2v2h-2zM366 91h2v2h-2zM363 90h2v2h-2zM354 63h2v2h-2zM361 85h2v2h-2zM370 56h2v2h-2zM333 114h2v2h-2zM342 83h2v2h-2zM348 114h2v2h-2zM353 93h2v2h-2zM346 77h2v2h-2zM353 96h2v2h-2zM362 78h2v2h-2zM369 121h2v2h-2zM368 87h2v2h-2zM381 115h2v2h-2zM364 102h2v2h-2zM373 128h2v2h-2zM352 81h2v2h-2zM374 84h2v2h-2zM352 105h2v2h-2zM364 105h2v2h-2zM360 118h2v2h-2zM365 99h2v2h-2zM367 79h2v2h-2zM355 68h2v2h-2zM358 70h2v2h-2zM343 100h2v2h-2zM370 89h2v2h-2zM378 95h2v2h-2zM372 97h2v2h-2zM348 79h2v2h-2zM337 68h2v2h-2zM368 98h2v2h-2zM344 58h2v2h-2zM362 54h2v2h-2zM359 94h2v2h-2zM347 117h2v2h-2zM352 108h2v2h-2zM374 92h2v2h-2zM354 76h2v2h-2zM364 75h2v2h-2zM359 79h2v2h-2zM379 101h2v2h-2zM358 93h2v2h-2zM357 71h2v2h-2zM365 112h2v2h-2zM366 122h2v2h-2zM365 106h2v2h-2zM375 94h2v2h-2zM376 100h2v2h-2zM360 126h2v2h-2zM358 73h2v2h-2zM367 93h2v2h-2zM373 65h2v2h-2zM345 81h2v2h-2zM379 81h2v2h-2zM335 102h2v2h-2zM367 72h2v2h-2zM338 107h2v2h-2zM338 91h2v2h-2zM359 75h2v2h-2zM344 103h2v2h-2zM356 89h2v2h-2zM362 81h2v2h-2zM379 105h2v2h-2zM343 73h2v2h-2zM386 82h2v2h-2zM372 56h2v2h-2zM344 91h2v2h-2zM373 103h2v2h-2zM350 97h2v2h-2zM333 75h2v2h-2zM355 101h2v2h-2zM343 65h2v2h-2zM347 72h2v2h-2zM358 74h2v2h-2zM341 80h2v2h-2zM375 66h2v2h-2zM363 78h2v2h-2zM400 83h2v2h-2zM354 77h2v2h-2zM357 89h2v2h-2zM381 107h2v2h-2zM354 105h2v2h-2zM359 88h2v2h-2zM350 78h2v2h-2zM382 87h2v2h-2zM379 91h2v2h-2zM367 111h2v2h-2zM351 93h2v2h-2zM346 91h2v2h-2zM376 85h2v2h-2zM340 87h2v2h-2zM354 80h2v2h-2zM365 94h2v2h-2zM341 79h2v2h-2zM352 91h2v2h-2zM354 88h2v2h-2zM370 107h2v2h-2zM348 131h2v2h-2zM363 84h2v2h-2zM383 71h2v2h-2zM386 105h2v2h-2zM359 80h2v2h-2zM346 100h2v2h-2zM371 83h2v2h-2zM371 73h2v2h-2zM383 73h2v2h-2zM349 48h2v2h-2zM377 93h2v2h-2zM369 69h2v2h-2zM381 91h2v2h-2zM370 82h2v2h-2zM353 82h2v2h-2zM374 89h2v2h-2zM330 67h2v2h-2zM355 102h2v2h-2zM375 79h2v2h-2zM342 87h2v2h-2zM349 91h2v2h-2zM358 66h2v2h-2zM345 88h2v2h-2zM359 112h2v2h-2zM369 106h2v2h-2zM362 79h2v2h-2zM329 74h2v2h-2zM346 67h2v2h-2zM350 82h2v2h-2zM368 70h2v2h-2zM342 109h2v2h-2zM385 66h2v2h-2zM351 90h2v2h-2zM353 89h2v2h-2zM351 61h2v2h-2zM352 71h2v2h-2zM361 59h2v2h-2zM372 80h2v2h-2zM362 101h2v2h-2zM360 85h2v2h-2zM374 101h2v2h-2zM341 68h2v2h-2zM352 66h2v2h-2zM365 105h2v2h-2zM369 85h2v2h-2zM379 88h2v2h-2zM348 50h2v2h-2zM371 85h2v2h-2zM350 110h2v2h-2zM360 89h2v2h-2zM356 70h2v2h-2zM361 71h2v2h-2zM360 111h2v2h-2zM361 111h2v2h-2zM371 106h2v2h-2zM352 88h2v2h-2zM345 74h2v2h-2zM361 94h2v2h-2zM367 91h2v2h-2zM370 126h2v2h-2zM366 81h2v2h-2zM365 84h2v2h-2zM368 91h2v2h-2zM351 86h2v2h-2zM347 92h2v2h-2zM377 70h2v2h-2zM362 86h2v2h-2zM349 103h2v2h-2zM349 100h2v2h-2zM357 97h2v2h-2zM370 95h2v2h-2zM360 71h2v2h-2zM369 77h2v2h-2zM357 78h2v2h-2zM384 77h2v2h-2zM375 78h2v2h-2zM362 108h2v2h-2zM352 86h2v2h-2zM328 110h2v2h-2zM351 103h2v2h-2zM350 74h2v2h-2zM369 98h2v2h-2zM356 72h2v2h-2zM363 91h2v2h-2zM365 78h2v2h-2zM348 111h2v2h-2zM382 69h2v2h-2zM324 92h2v2h-2zM361 84h2v2h-2zM374 105h2v2h-2zM336 79h2v2h-2zM335 110h2v2h-2zM354 110h2v2h-2zM360 83h2v2h-2zM377 81h2v2h-2zM370 87h2v2h-2zM339 96h2v2h-2zM373 68h2v2h-2zM344 100h2v2h-2zM364 72h2v2h-2zM371 94h2v2h-2zM346 95h2v2h-2zM359 78h2v2h-2zM357 72h2v2h-2zM364 81h2v2h-2zM375 115h2v2h-2zM356 95h2v2h-2zM360 107h2v2h-2zM337 91h2v2h-2zM363 87h2v2h-2zM364 83h2v2h-2zM372 83h2v2h-2zM351 72h2v2h-2zM390 103h2v2h-2zM328 135h2v2h-2zM371 102h2v2h-2zM358 136h2v2h-2zM331 119h2v2h-2zM319 98h2v2h-2zM344 122h2v2h-2zM368 135h2v2h-2zM381 111h2v2h-2zM322 143h2v2h-2zM329 131h2v2h-2zM365 130h2v2h-2zM338 121h2v2h-2zM351 77h2v2h-2zM346 129h2v2h-2zM354 123h2v2h-2zM358 153h2v2h-2zM326 118h2v2h-2zM359 158h2v2h-2zM351 102h2v2h-2zM357 102h2v2h-2zM363 134h2v2h-2zM328 99h2v2h-2zM369 92h2v2h-2zM344 94h2v2h-2zM361 151h2v2h-2zM379 126h2v2h-2zM384 116h2v2h-2zM339 114h2v2h-2zM357 124h2v2h-2zM368 144h2v2h-2zM350 100h2v2h-2zM348 116h2v2h-2zM340 125h2v2h-2zM333 132h2v2h-2zM322 81h2v2h-2zM331 88h2v2h-2zM383 69h2v2h-2zM361 118h2v2h-2zM354 111h2v2h-2zM361 89h2v2h-2zM361 115h2v2h-2zM333 162h2v2h-2zM356 152h2v2h-2zM354 112h2v2h-2zM370 104h2v2h-2zM366 82h2v2h-2zM337 109h2v2h-2zM348 102h2v2h-2zM330 122h2v2h-2zM332 109h2v2h-2zM318 162h2v2h-2zM340 115h2v2h-2zM350 120h2v2h-2zM359 96h2v2h-2zM363 125h2v2h-2zM364 113h2v2h-2zM388 108h2v2h-2zM367 138h2v2h-2zM325 120h2v2h-2zM322 126h2v2h-2zM340 96h2v2h-2zM343 84h2v2h-2zM345 117h2v2h-2zM342 124h2v2h-2zM352 123h2v2h-2zM334 105h2v2h-2zM350 115h2v2h-2zM327 140h2v2h-2zM382 102h2v2h-2zM355 127h2v2h-2zM363 95h2v2h-2zM337 123h2v2h-2zM338 115h2v2h-2zM323 109h2v2h-2zM321 93h2v2h-2zM381 116h2v2h-2zM347 65h2v2h-2zM343 130h2v2h-2zM397 119h2v2h-2zM351 126h2v2h-2zM319 106h2v2h-2zM340 130h2v2h-2zM353 107h2v2h-2zM360 131h2v2h-2zM346 132h2v2h-2zM359 108h2v2h-2zM321 84h2v2h-2zM394 131h2v2h-2zM371 124h2v2h-2zM337 118h2v2h-2zM349 143h2v2h-2zM327 108h2v2h-2zM346 111h2v2h-2zM349 137h2v2h-2zM357 122h2v2h-2zM349 125h2v2h-2zM346 125h2v2h-2zM359 118h2v2h-2zM344 136h2v2h-2zM347 109h2v2h-2zM376 88h2v2h-2zM370 53h2v2h-2zM364 51h2v2h-2zM349 55h2v2h-2zM349 53h2v2h-2zM338 51h2v2h-2zM352 50h2v2h-2zM359 49h2v2h-2zM351 50h2v2h-2zM397 49h2v2h-2zM415 45h2v2h-2zM412 42h2v2h-2zM388 44h2v2h-2zM398 49h2v2h-2zM401 48h2v2h-2zM414 47h2v2h-2zM399 181h2v2h-2zM403 174h2v2h-2zM402 187h2v2h-2zM375 171h2v2h-2zM384 189h2v2h-2zM388 189h2v2h-2zM388 174h2v2h-2zM372 186h2v2h-2zM400 182h2v2h-2zM382 190h2v2h-2zM384 186h2v2h-2zM387 176h2v2h-2zM384 173h2v2h-2zM372 192h2v2h-2zM380 192h2v2h-2zM387 191h2v2h-2zM373 191h2v2h-2zM401 179h2v2h-2zM392 179h2v2h-2zM378 187h2v2h-2zM374 192h2v2h-2zM387 178h2v2h-2zM394 180h2v2h-2zM396 192h2v2h-2zM376 189h2v2h-2zM373 184h2v2h-2zM380 188h2v2h-2zM399 175h2v2h-2zM383 174h2v2h-2zM402 183h2v2h-2zM384 187h2v2h-2zM371 176h2v2h-2zM381 191h2v2h-2zM383 181h2v2h-2zM381 176h2v2h-2zM384 193h2v2h-2zM393 174h2v2h-2zM387 189h2v2h-2zM402 176h2v2h-2zM405 192h2v2h-2zM373 175h2v2h-2zM393 190h2v2h-2zM407 175h2v2h-2zM395 191h2v2h-2zM385 183h2v2h-2zM387 172h2v2h-2zM399 182h2v2h-2zM372 187h2v2h-2zM398 187h2v2h-2zM373 174h2v2h-2zM374 188h2v2h-2zM403 192h2v2h-2zM404 176h2v2h-2zM383 191h2v2h-2zM404 172h2v2h-2zM403 181h2v2h-2zM396 185h2v2h-2zM395 178h2v2h-2zM378 180h2v2h-2zM380 190h2v2h-2zM402 174h2v2h-2zM378 185h2v2h-2zM394 183h2v2h-2zM405 128h2v2h-2zM406 122h2v2h-2zM394 129h2v2h-2zM390 125h2v2h-2zM402 120h2v2h-2zM406 125h2v2h-2zM402 123h2v2h-2zM411 119h2v2h-2zM402 130h2v2h-2zM404 143h2v2h-2zM408 116h2v2h-2zM398 131h2v2h-2zM401 132h2v2h-2zM406 123h2v2h-2zM412 129h2v2h-2zM402 116h2v2h-2zM394 108h2v2h-2zM400 116h2v2h-2zM399 135h2v2h-2zM398 129h2v2h-2zM406 119h2v2h-2zM399 155h2v2h-2zM392 119h2v2h-2zM395 124h2v2h-2zM399 130h2v2h-2zM402 133h2v2h-2zM400 128h2v2h-2zM406 124h2v2h-2zM394 127h2v2h-2zM402 107h2v2h-2zM404 125h2v2h-2zM401 121h2v2h-2zM398 154h2v2h-2zM399 138h2v2h-2zM400 126h2v2h-2zM396 126h2v2h-2zM388 145h2v2h-2zM398 97h2v2h-2zM397 132h2v2h-2zM393 123h2v2h-2zM406 127h2v2h-2zM402 137h2v2h-2zM402 98h2v2h-2zM400 138h2v2h-2zM409 135h2v2h-2zM397 106h2v2h-2zM408 136h2v2h-2zM406 117h2v2h-2zM411 135h2v2h-2zM400 98h2v2h-2zM403 121h2v2h-2zM398 140h2v2h-2zM403 113h2v2h-2zM396 147h2v2h-2zM401 113h2v2h-2zM409 128h2v2h-2zM407 125h2v2h-2zM416 114h2v2h-2zM401 130h2v2h-2zM402 125h2v2h-2zM403 132h2v2h-2zM400 125h2v2h-2zM398 132h2v2h-2zM402 114h2v2h-2zM402 131h2v2h-2zM405 138h2v2h-2zM409 121h2v2h-2zM408 141h2v2h-2zM397 130h2v2h-2zM392 141h2v2h-2zM412 121h2v2h-2zM405 145h2v2h-2zM387 121h2v2h-2zM410 132h2v2h-2zM392 126h2v2h-2zM395 151h2v2h-2zM405 147h2v2h-2zM400 167h2v2h-2zM409 127h2v2h-2zM407 106h2v2h-2zM396 114h2v2h-2zM404 119h2v2h-2zM408 100h2v2h-2zM399 119h2v2h-2zM405 152h2v2h-2zM406 99h2v2h-2zM407 130h2v2h-2zM404 132h2v2h-2zM401 139h2v2h-2zM403 122h2v2h-2zM397 122h2v2h-2zM398 124h2v2h-2zM398 112h2v2h-2zM426 64h2v2h-2zM437 65h2v2h-2zM459 64h2v2h-2zM462 61h2v2h-2zM475 64h2v2h-2zM493 64h2v2h-2zM492 74h2v2h-2zM499 74h2v2h-2zM476 93h2v2h-2zM451 99h2v2h-2zM444 105h2v2h-2zM423 79h2v2h-2zM424 80h2v2h-2zM426 86h2v2h-2zM428 87h2v2h-2zM423 92h2v2h-2zM417 50h2v2h-2z" fill="#000"/><path d="M58 406h2v2h-2zM54 408h2v2h-2zM60 405h2v2h-2zM49 405h2v2h-2zM46 407h2v2h-2zM42 410h2v2h-2zM83 410h2v2h-2zM64 404h2v2h-2zM80 409h2v2h-2zM50 406h2v2h-2zM51 405h2v2h-2zM54 403h2v2h-2zM41 409h2v2h-2zM44 405h2v2h-2zM47 405h2v2h-2zM63 408h2v2h-2zM78 407h2v2h-2zM81 406h2v2h-2zM46 406h2v2h-2zM50 408h2v2h-2zM74 403h2v2h-2zM45 408h2v2h-2zM58 402h2v2h-2zM49 410h2v2h-2zM83 403h2v2h-2zM62 405h2v2h-2zM62 411h2v2h-2zM75 409h2v2h-2zM87 403h2v2h-2zM64 407h2v2h-2zM62 407h2v2h-2zM88 404h2v2h-2zM81 409h2v2h-2zM70 411h2v2h-2zM88 408h2v2h-2zM72 409h2v2h-2zM51 404h2v2h-2zM65 408h2v2h-2zM82 410h2v2h-2zM68 409h2v2h-2zM68 411h2v2h-2zM82 409h2v2h-2zM77 410h2v2h-2zM64 409h2v2h-2zM61 412h2v2h-2zM46 410h2v2h-2zM72 411h2v2h-2zM77 409h2v2h-2zM52 409h2v2h-2zM58 411h2v2h-2zM62 409h2v2h-2zM47 409h2v2h-2zM54 410h2v2h-2zM79 411h2v2h-2zM65 412h2v2h-2zM76 411h2v2h-2zM46 408h2v2h-2zM55 412h2v2h-2zM86 437h2v2h-2zM84 424h2v2h-2zM84 419h2v2h-2zM86 434h2v2h-2zM87 445h2v2h-2zM94 411h2v2h-2zM91 426h2v2h-2zM91 434h2v2h-2zM91 416h2v2h-2zM92 428h2v2h-2zM84 422h2v2h-2zM87 434h2v2h-2zM93 441h2v2h-2zM94 445h2v2h-2zM86 449h2v2h-2zM84 417h2v2h-2zM85 438h2v2h-2zM93 438h2v2h-2zM86 448h2v2h-2zM85 446h2v2h-2zM87 444h2v2h-2zM90 437h2v2h-2zM86 412h2v2h-2zM87 447h2v2h-2zM83 444h2v2h-2zM90 436h2v2h-2zM93 413h2v2h-2zM89 446h2v2h-2zM84 412h2v2h-2zM92 437h2v2h-2zM87 439h2v2h-2zM84 448h2v2h-2zM90 420h2v2h-2zM85 414h2v2h-2zM91 432h2v2h-2zM89 427h2v2h-2zM84 423h2v2h-2zM88 410h2v2h-2zM86 417h2v2h-2zM83 415h2v2h-2zM90 429h2v2h-2zM89 423h2v2h-2zM93 442h2v2h-2zM83 421h2v2h-2zM85 412h2v2h-2zM86 413h2v2h-2zM92 440h2v2h-2zM87 424h2v2h-2zM90 433h2v2h-2zM94 412h2v2h-2zM84 444h2v2h-2zM84 429h2v2h-2zM91 428h2v2h-2zM85 425h2v2h-2zM89 425h2v2h-2zM87 420h2v2h-2zM85 413h2v2h-2zM84 430h2v2h-2zM94 447h2v2h-2zM92 435h2v2h-2zM92 413h2v2h-2zM90 427h2v2h-2zM86 428h2v2h-2zM87 410h2v2h-2zM92 444h2v2h-2zM84 421h2v2h-2zM90 435h2v2h-2zM90 430h2v2h-2zM92 424h2v2h-2zM89 437h2v2h-2zM86 445h2v2h-2zM83 416h2v2h-2zM87 417h2v2h-2zM85 443h2v2h-2zM83 442h2v2h-2zM83 439h2v2h-2zM82 425h2v2h-2zM87 426h2v2h-2zM85 424h2v2h-2zM83 426h2v2h-2zM86 443h2v2h-2zM83 414h2v2h-2zM86 416h2v2h-2zM86 424h2v2h-2zM85 426h2v2h-2zM87 443h2v2h-2zM87 431h2v2h-2zM85 418h2v2h-2zM87 414h2v2h-2zM82 412h2v2h-2zM83 433h2v2h-2zM84 411h2v2h-2zM88 433h2v2h-2zM83 418h2v2h-2zM86 422h2v2h-2zM87 449h2v2h-2zM82 427h2v2h-2zM85 449h2v2h-2zM88 415h2v2h-2zM83 422h2v2h-2zM83 427h2v2h-2zM83 417h2v2h-2zM86 430h2v2h-2zM86 414h2v2h-2zM85 430h2v2h-2zM85 432h2v2h-2zM88 440h2v2h-2zM83 419h2v2h-2zM84 435h2v2h-2zM85 423h2v2h-2zM83 431h2v2h-2zM85 420h2v2h-2zM83 446h2v2h-2zM86 419h2v2h-2zM83 429h2v2h-2zM84 446h2v2h-2zM86 438h2v2h-2zM83 412h2v2h-2zM164 330h2v2h-2zM114 339h2v2h-2zM124 353h2v2h-2zM83 356h2v2h-2zM133 373h2v2h-2zM130 377h2v2h-2zM136 384h2v2h-2zM89 383h2v2h-2zM78 386h2v2h-2zM99 390h2v2h-2zM120 391h2v2h-2zM124 394h2v2h-2zM115 398h2v2h-2zM128 398h2v2h-2zM119 402h2v2h-2zM120 404h2v2h-2zM118 407h2v2h-2zM102 409h2v2h-2zM111 411h2v2h-2zM108 413h2v2h-2zM109 417h2v2h-2zM107 414h2v2h-2zM101 419h2v2h-2zM117 425h2v2h-2zM105 435h2v2h-2z" fill="#000"/>
<rect x="44.9" y="435.7" width="1.8" height="1.8" fill="#fff"/><rect x="50.9" y="441.9" width="1.8" height="1.8" fill="#fff"/><rect x="56.0" y="449.1" width="1.8" height="1.8" fill="#fff"/><rect x="75.7" y="441.9" width="1.8" height="1.8" fill="#fff"/><rect x="79.9" y="449.1" width="1.8" height="1.8" fill="#fff"/><rect x="81.5" y="437.1" width="1.8" height="1.8" fill="#fff"/>
<g stroke="#000" fill="none" stroke-linecap="square">
<rect x="38.4" y="12.3" width="201.5" height="183.3" stroke-width="1.5"/>
<line x1="39.20" y1="196.20" x2="39.20" y2="202.60" stroke-width="1.4"/>
<line x1="31.40" y1="194.60" x2="38.40" y2="194.60" stroke-width="1.4"/>
<line x1="46.90" y1="196.20" x2="46.90" y2="199.80" stroke-width="1.4"/>
<line x1="34.60" y1="187.10" x2="38.40" y2="187.10" stroke-width="1.4"/>
<line x1="54.60" y1="196.20" x2="54.60" y2="199.80" stroke-width="1.4"/>
<line x1="34.60" y1="179.60" x2="38.40" y2="179.60" stroke-width="1.4"/>
<line x1="62.30" y1="196.20" x2="62.30" y2="199.80" stroke-width="1.4"/>
<line x1="34.60" y1="172.10" x2="38.40" y2="172.10" stroke-width="1.4"/>
<line x1="70.00" y1="196.20" x2="70.00" y2="199.80" stroke-width="1.4"/>
<line x1="34.60" y1="164.60" x2="38.40" y2="164.60" stroke-width="1.4"/>
<line x1="79.00" y1="196.20" x2="79.00" y2="202.60" stroke-width="1.4"/>
<line x1="31.40" y1="160.10" x2="38.40" y2="160.10" stroke-width="1.4"/>
<line x1="86.70" y1="196.20" x2="86.70" y2="199.80" stroke-width="1.4"/>
<line x1="34.60" y1="152.60" x2="38.40" y2="152.60" stroke-width="1.4"/>
<line x1="94.40" y1="196.20" x2="94.40" y2="199.80" stroke-width="1.4"/>
<line x1="34.60" y1="145.10" x2="38.40" y2="145.10" stroke-width="1.4"/>
<line x1="102.10" y1="196.20" x2="102.10" y2="199.80" stroke-width="1.4"/>
<line x1="34.60" y1="137.60" x2="38.40" y2="137.60" stroke-width="1.4"/>
<line x1="109.80" y1="196.20" x2="109.80" y2="199.80" stroke-width="1.4"/>
<line x1="34.60" y1="130.10" x2="38.40" y2="130.10" stroke-width="1.4"/>
<line x1="118.40" y1="196.20" x2="118.40" y2="202.60" stroke-width="1.4"/>
<line x1="31.40" y1="123.50" x2="38.40" y2="123.50" stroke-width="1.4"/>
<line x1="126.10" y1="196.20" x2="126.10" y2="199.80" stroke-width="1.4"/>
<line x1="34.60" y1="116.00" x2="38.40" y2="116.00" stroke-width="1.4"/>
<line x1="133.80" y1="196.20" x2="133.80" y2="199.80" stroke-width="1.4"/>
<line x1="34.60" y1="108.50" x2="38.40" y2="108.50" stroke-width="1.4"/>
<line x1="141.50" y1="196.20" x2="141.50" y2="199.80" stroke-width="1.4"/>
<line x1="34.60" y1="101.00" x2="38.40" y2="101.00" stroke-width="1.4"/>
<line x1="149.20" y1="196.20" x2="149.20" y2="199.80" stroke-width="1.4"/>
<line x1="34.60" y1="93.50" x2="38.40" y2="93.50" stroke-width="1.4"/>
<line x1="157.70" y1="196.20" x2="157.70" y2="202.60" stroke-width="1.4"/>
<line x1="31.40" y1="89.20" x2="38.40" y2="89.20" stroke-width="1.4"/>
<line x1="165.40" y1="196.20" x2="165.40" y2="199.80" stroke-width="1.4"/>
<line x1="34.60" y1="81.70" x2="38.40" y2="81.70" stroke-width="1.4"/>
<line x1="173.10" y1="196.20" x2="173.10" y2="199.80" stroke-width="1.4"/>
<line x1="34.60" y1="74.20" x2="38.40" y2="74.20" stroke-width="1.4"/>
<line x1="180.80" y1="196.20" x2="180.80" y2="199.80" stroke-width="1.4"/>
<line x1="34.60" y1="66.70" x2="38.40" y2="66.70" stroke-width="1.4"/>
<line x1="188.50" y1="196.20" x2="188.50" y2="199.80" stroke-width="1.4"/>
<line x1="34.60" y1="59.20" x2="38.40" y2="59.20" stroke-width="1.4"/>
<line x1="196.90" y1="196.20" x2="196.90" y2="202.60" stroke-width="1.4"/>
<line x1="31.40" y1="53.10" x2="38.40" y2="53.10" stroke-width="1.4"/>
<line x1="204.40" y1="196.20" x2="204.40" y2="199.80" stroke-width="1.4"/>
<line x1="34.60" y1="45.60" x2="38.40" y2="45.60" stroke-width="1.4"/>
<line x1="211.90" y1="196.20" x2="211.90" y2="199.80" stroke-width="1.4"/>
<line x1="34.60" y1="38.10" x2="38.40" y2="38.10" stroke-width="1.4"/>
<line x1="219.40" y1="196.20" x2="219.40" y2="199.80" stroke-width="1.4"/>
<line x1="34.60" y1="30.60" x2="38.40" y2="30.60" stroke-width="1.4"/>
<line x1="226.90" y1="196.20" x2="226.90" y2="199.80" stroke-width="1.4"/>
<line x1="34.60" y1="23.10" x2="38.40" y2="23.10" stroke-width="1.4"/>
<line x1="234.40" y1="196.20" x2="234.40" y2="202.60" stroke-width="1.4"/>
<line x1="31.40" y1="18.60" x2="38.40" y2="18.60" stroke-width="1.4"/>
<line x1="87.00" y1="12.30" x2="87.00" y2="14.30" stroke-width="1.2"/>
<line x1="136.80" y1="12.30" x2="136.80" y2="14.30" stroke-width="1.2"/>
<line x1="186.00" y1="12.30" x2="186.00" y2="14.30" stroke-width="1.2"/>
<polygon points="94,189.5 237.2,189.5 237.2,21.3 173.8,21.3 84,175" stroke-width="2.1" stroke-linejoin="miter"/>
<rect x="316.5" y="14.0" width="189.5" height="181.1" stroke-width="1.5"/>
<line x1="318.10" y1="195.00" x2="318.10" y2="201.00" stroke-width="1.3"/>
<line x1="310.50" y1="194.40" x2="316.50" y2="194.40" stroke-width="1.3"/>
<line x1="332.16" y1="195.00" x2="332.16" y2="198.20" stroke-width="1.3"/>
<line x1="313.30" y1="180.85" x2="316.50" y2="180.85" stroke-width="1.3"/>
<line x1="340.38" y1="195.00" x2="340.38" y2="198.20" stroke-width="1.3"/>
<line x1="313.30" y1="172.93" x2="316.50" y2="172.93" stroke-width="1.3"/>
<line x1="346.22" y1="195.00" x2="346.22" y2="198.20" stroke-width="1.3"/>
<line x1="313.30" y1="167.31" x2="316.50" y2="167.31" stroke-width="1.3"/>
<line x1="350.74" y1="195.00" x2="350.74" y2="198.20" stroke-width="1.3"/>
<line x1="313.30" y1="162.95" x2="316.50" y2="162.95" stroke-width="1.3"/>
<line x1="354.44" y1="195.00" x2="354.44" y2="198.20" stroke-width="1.3"/>
<line x1="313.30" y1="159.38" x2="316.50" y2="159.38" stroke-width="1.3"/>
<line x1="357.57" y1="195.00" x2="357.57" y2="198.20" stroke-width="1.3"/>
<line x1="313.30" y1="156.37" x2="316.50" y2="156.37" stroke-width="1.3"/>
<line x1="360.27" y1="195.00" x2="360.27" y2="198.20" stroke-width="1.3"/>
<line x1="313.30" y1="153.76" x2="316.50" y2="153.76" stroke-width="1.3"/>
<line x1="362.66" y1="195.00" x2="362.66" y2="198.20" stroke-width="1.3"/>
<line x1="313.30" y1="151.46" x2="316.50" y2="151.46" stroke-width="1.3"/>
<line x1="364.80" y1="195.00" x2="364.80" y2="201.00" stroke-width="1.3"/>
<line x1="310.50" y1="149.40" x2="316.50" y2="149.40" stroke-width="1.3"/>
<line x1="378.86" y1="195.00" x2="378.86" y2="198.20" stroke-width="1.3"/>
<line x1="313.30" y1="135.85" x2="316.50" y2="135.85" stroke-width="1.3"/>
<line x1="387.08" y1="195.00" x2="387.08" y2="198.20" stroke-width="1.3"/>
<line x1="313.30" y1="127.93" x2="316.50" y2="127.93" stroke-width="1.3"/>
<line x1="392.92" y1="195.00" x2="392.92" y2="198.20" stroke-width="1.3"/>
<line x1="313.30" y1="122.31" x2="316.50" y2="122.31" stroke-width="1.3"/>
<line x1="397.44" y1="195.00" x2="397.44" y2="198.20" stroke-width="1.3"/>
<line x1="313.30" y1="117.95" x2="316.50" y2="117.95" stroke-width="1.3"/>
<line x1="401.14" y1="195.00" x2="401.14" y2="198.20" stroke-width="1.3"/>
<line x1="313.30" y1="114.38" x2="316.50" y2="114.38" stroke-width="1.3"/>
<line x1="404.27" y1="195.00" x2="404.27" y2="198.20" stroke-width="1.3"/>
<line x1="313.30" y1="111.37" x2="316.50" y2="111.37" stroke-width="1.3"/>
<line x1="406.97" y1="195.00" x2="406.97" y2="198.20" stroke-width="1.3"/>
<line x1="313.30" y1="108.76" x2="316.50" y2="108.76" stroke-width="1.3"/>
<line x1="409.36" y1="195.00" x2="409.36" y2="198.20" stroke-width="1.3"/>
<line x1="313.30" y1="106.46" x2="316.50" y2="106.46" stroke-width="1.3"/>
<line x1="411.50" y1="195.00" x2="411.50" y2="201.00" stroke-width="1.3"/>
<line x1="310.50" y1="104.40" x2="316.50" y2="104.40" stroke-width="1.3"/>
<line x1="425.56" y1="195.00" x2="425.56" y2="198.20" stroke-width="1.3"/>
<line x1="313.30" y1="90.85" x2="316.50" y2="90.85" stroke-width="1.3"/>
<line x1="433.78" y1="195.00" x2="433.78" y2="198.20" stroke-width="1.3"/>
<line x1="313.30" y1="82.93" x2="316.50" y2="82.93" stroke-width="1.3"/>
<line x1="439.62" y1="195.00" x2="439.62" y2="198.20" stroke-width="1.3"/>
<line x1="313.30" y1="77.31" x2="316.50" y2="77.31" stroke-width="1.3"/>
<line x1="444.14" y1="195.00" x2="444.14" y2="198.20" stroke-width="1.3"/>
<line x1="313.30" y1="72.95" x2="316.50" y2="72.95" stroke-width="1.3"/>
<line x1="447.84" y1="195.00" x2="447.84" y2="198.20" stroke-width="1.3"/>
<line x1="313.30" y1="69.38" x2="316.50" y2="69.38" stroke-width="1.3"/>
<line x1="450.97" y1="195.00" x2="450.97" y2="198.20" stroke-width="1.3"/>
<line x1="313.30" y1="66.37" x2="316.50" y2="66.37" stroke-width="1.3"/>
<line x1="453.67" y1="195.00" x2="453.67" y2="198.20" stroke-width="1.3"/>
<line x1="313.30" y1="63.76" x2="316.50" y2="63.76" stroke-width="1.3"/>
<line x1="456.06" y1="195.00" x2="456.06" y2="198.20" stroke-width="1.3"/>
<line x1="313.30" y1="61.46" x2="316.50" y2="61.46" stroke-width="1.3"/>
<line x1="458.20" y1="195.00" x2="458.20" y2="201.00" stroke-width="1.3"/>
<line x1="310.50" y1="59.40" x2="316.50" y2="59.40" stroke-width="1.3"/>
<line x1="472.26" y1="195.00" x2="472.26" y2="198.20" stroke-width="1.3"/>
<line x1="313.30" y1="45.85" x2="316.50" y2="45.85" stroke-width="1.3"/>
<line x1="480.48" y1="195.00" x2="480.48" y2="198.20" stroke-width="1.3"/>
<line x1="313.30" y1="37.93" x2="316.50" y2="37.93" stroke-width="1.3"/>
<line x1="486.32" y1="195.00" x2="486.32" y2="198.20" stroke-width="1.3"/>
<line x1="313.30" y1="32.31" x2="316.50" y2="32.31" stroke-width="1.3"/>
<line x1="490.84" y1="195.00" x2="490.84" y2="198.20" stroke-width="1.3"/>
<line x1="313.30" y1="27.95" x2="316.50" y2="27.95" stroke-width="1.3"/>
<line x1="494.54" y1="195.00" x2="494.54" y2="198.20" stroke-width="1.3"/>
<line x1="313.30" y1="24.38" x2="316.50" y2="24.38" stroke-width="1.3"/>
<line x1="497.67" y1="195.00" x2="497.67" y2="198.20" stroke-width="1.3"/>
<line x1="313.30" y1="21.37" x2="316.50" y2="21.37" stroke-width="1.3"/>
<line x1="500.37" y1="195.00" x2="500.37" y2="198.20" stroke-width="1.3"/>
<line x1="313.30" y1="18.76" x2="316.50" y2="18.76" stroke-width="1.3"/>
<line x1="502.76" y1="195.00" x2="502.76" y2="198.20" stroke-width="1.3"/>
<line x1="313.30" y1="16.46" x2="316.50" y2="16.46" stroke-width="1.3"/>
<line x1="504.90" y1="195.00" x2="504.90" y2="201.00" stroke-width="1.3"/>
<line x1="310.50" y1="14.40" x2="316.50" y2="14.40" stroke-width="1.3"/>
<line x1="372.00" y1="14.60" x2="372.00" y2="195.00" stroke-width="1.4"/>
<line x1="316.50" y1="143.70" x2="506.00" y2="143.70" stroke-width="1.4"/>
<polyline points="372,39.8 421,39.8 421,195" stroke-width="1.4"/>
<rect x="41.3" y="272.3" width="198.7" height="180.4" stroke-width="1.5"/>
<line x1="42.60" y1="452.70" x2="42.60" y2="458.70" stroke-width="1.3"/>
<line x1="35.30" y1="451.50" x2="41.30" y2="451.50" stroke-width="1.3"/>
<line x1="57.38" y1="452.70" x2="57.38" y2="455.90" stroke-width="1.3"/>
<line x1="38.10" y1="438.01" x2="41.30" y2="438.01" stroke-width="1.3"/>
<line x1="66.03" y1="452.70" x2="66.03" y2="455.90" stroke-width="1.3"/>
<line x1="38.10" y1="430.12" x2="41.30" y2="430.12" stroke-width="1.3"/>
<line x1="72.16" y1="452.70" x2="72.16" y2="455.90" stroke-width="1.3"/>
<line x1="38.10" y1="424.53" x2="41.30" y2="424.53" stroke-width="1.3"/>
<line x1="76.92" y1="452.70" x2="76.92" y2="455.90" stroke-width="1.3"/>
<line x1="38.10" y1="420.19" x2="41.30" y2="420.19" stroke-width="1.3"/>
<line x1="80.81" y1="452.70" x2="80.81" y2="455.90" stroke-width="1.3"/>
<line x1="38.10" y1="416.64" x2="41.30" y2="416.64" stroke-width="1.3"/>
<line x1="84.09" y1="452.70" x2="84.09" y2="455.90" stroke-width="1.3"/>
<line x1="38.10" y1="413.64" x2="41.30" y2="413.64" stroke-width="1.3"/>
<line x1="86.94" y1="452.70" x2="86.94" y2="455.90" stroke-width="1.3"/>
<line x1="38.10" y1="411.04" x2="41.30" y2="411.04" stroke-width="1.3"/>
<line x1="89.45" y1="452.70" x2="89.45" y2="455.90" stroke-width="1.3"/>
<line x1="38.10" y1="408.75" x2="41.30" y2="408.75" stroke-width="1.3"/>
<line x1="91.70" y1="452.70" x2="91.70" y2="458.70" stroke-width="1.3"/>
<line x1="35.30" y1="406.70" x2="41.30" y2="406.70" stroke-width="1.3"/>
<line x1="106.48" y1="452.70" x2="106.48" y2="455.90" stroke-width="1.3"/>
<line x1="38.10" y1="393.21" x2="41.30" y2="393.21" stroke-width="1.3"/>
<line x1="115.13" y1="452.70" x2="115.13" y2="455.90" stroke-width="1.3"/>
<line x1="38.10" y1="385.32" x2="41.30" y2="385.32" stroke-width="1.3"/>
<line x1="121.26" y1="452.70" x2="121.26" y2="455.90" stroke-width="1.3"/>
<line x1="38.10" y1="379.73" x2="41.30" y2="379.73" stroke-width="1.3"/>
<line x1="126.02" y1="452.70" x2="126.02" y2="455.90" stroke-width="1.3"/>
<line x1="38.10" y1="375.39" x2="41.30" y2="375.39" stroke-width="1.3"/>
<line x1="129.91" y1="452.70" x2="129.91" y2="455.90" stroke-width="1.3"/>
<line x1="38.10" y1="371.84" x2="41.30" y2="371.84" stroke-width="1.3"/>
<line x1="133.19" y1="452.70" x2="133.19" y2="455.90" stroke-width="1.3"/>
<line x1="38.10" y1="368.84" x2="41.30" y2="368.84" stroke-width="1.3"/>
<line x1="136.04" y1="452.70" x2="136.04" y2="455.90" stroke-width="1.3"/>
<line x1="38.10" y1="366.24" x2="41.30" y2="366.24" stroke-width="1.3"/>
<line x1="138.55" y1="452.70" x2="138.55" y2="455.90" stroke-width="1.3"/>
<line x1="38.10" y1="363.95" x2="41.30" y2="363.95" stroke-width="1.3"/>
<line x1="140.80" y1="452.70" x2="140.80" y2="458.70" stroke-width="1.3"/>
<line x1="35.30" y1="361.90" x2="41.30" y2="361.90" stroke-width="1.3"/>
<line x1="155.58" y1="452.70" x2="155.58" y2="455.90" stroke-width="1.3"/>
<line x1="38.10" y1="348.41" x2="41.30" y2="348.41" stroke-width="1.3"/>
<line x1="164.23" y1="452.70" x2="164.23" y2="455.90" stroke-width="1.3"/>
<line x1="38.10" y1="340.52" x2="41.30" y2="340.52" stroke-width="1.3"/>
<line x1="170.36" y1="452.70" x2="170.36" y2="455.90" stroke-width="1.3"/>
<line x1="38.10" y1="334.93" x2="41.30" y2="334.93" stroke-width="1.3"/>
<line x1="175.12" y1="452.70" x2="175.12" y2="455.90" stroke-width="1.3"/>
<line x1="38.10" y1="330.59" x2="41.30" y2="330.59" stroke-width="1.3"/>
<line x1="179.01" y1="452.70" x2="179.01" y2="455.90" stroke-width="1.3"/>
<line x1="38.10" y1="327.04" x2="41.30" y2="327.04" stroke-width="1.3"/>
<line x1="182.29" y1="452.70" x2="182.29" y2="455.90" stroke-width="1.3"/>
<line x1="38.10" y1="324.04" x2="41.30" y2="324.04" stroke-width="1.3"/>
<line x1="185.14" y1="452.70" x2="185.14" y2="455.90" stroke-width="1.3"/>
<line x1="38.10" y1="321.44" x2="41.30" y2="321.44" stroke-width="1.3"/>
<line x1="187.65" y1="452.70" x2="187.65" y2="455.90" stroke-width="1.3"/>
<line x1="38.10" y1="319.15" x2="41.30" y2="319.15" stroke-width="1.3"/>
<line x1="189.90" y1="452.70" x2="189.90" y2="458.70" stroke-width="1.3"/>
<line x1="35.30" y1="317.10" x2="41.30" y2="317.10" stroke-width="1.3"/>
<line x1="204.68" y1="452.70" x2="204.68" y2="455.90" stroke-width="1.3"/>
<line x1="38.10" y1="303.61" x2="41.30" y2="303.61" stroke-width="1.3"/>
<line x1="213.33" y1="452.70" x2="213.33" y2="455.90" stroke-width="1.3"/>
<line x1="38.10" y1="295.72" x2="41.30" y2="295.72" stroke-width="1.3"/>
<line x1="219.46" y1="452.70" x2="219.46" y2="455.90" stroke-width="1.3"/>
<line x1="38.10" y1="290.13" x2="41.30" y2="290.13" stroke-width="1.3"/>
<line x1="224.22" y1="452.70" x2="224.22" y2="455.90" stroke-width="1.3"/>
<line x1="38.10" y1="285.79" x2="41.30" y2="285.79" stroke-width="1.3"/>
<line x1="228.11" y1="452.70" x2="228.11" y2="455.90" stroke-width="1.3"/>
<line x1="38.10" y1="282.24" x2="41.30" y2="282.24" stroke-width="1.3"/>
<line x1="231.39" y1="452.70" x2="231.39" y2="455.90" stroke-width="1.3"/>
<line x1="38.10" y1="279.24" x2="41.30" y2="279.24" stroke-width="1.3"/>
<line x1="234.24" y1="452.70" x2="234.24" y2="455.90" stroke-width="1.3"/>
<line x1="38.10" y1="276.64" x2="41.30" y2="276.64" stroke-width="1.3"/>
<line x1="236.75" y1="452.70" x2="236.75" y2="455.90" stroke-width="1.3"/>
<line x1="38.10" y1="274.35" x2="41.30" y2="274.35" stroke-width="1.3"/>
<line x1="239.00" y1="452.70" x2="239.00" y2="458.70" stroke-width="1.3"/>
<line x1="35.30" y1="272.30" x2="41.30" y2="272.30" stroke-width="1.3"/>
<line x1="100.40" y1="272.30" x2="100.40" y2="452.70" stroke-width="1.4"/>
<line x1="41.30" y1="400.60" x2="240.00" y2="400.60" stroke-width="1.4"/>
<rect x="318.4" y="274.6" width="191.1" height="177.9" stroke-width="1.6"/>
<line x1="424.00" y1="450.60" x2="509.50" y2="450.60" stroke-width="1.5"/>
<line x1="318.40" y1="274.00" x2="318.40" y2="453.50" stroke-width="2.1"/>
<line x1="318.40" y1="452.50" x2="318.40" y2="458.50" stroke-width="1.3"/>
<line x1="332.73" y1="452.50" x2="332.73" y2="455.70" stroke-width="1.3"/>
<line x1="341.11" y1="452.50" x2="341.11" y2="455.70" stroke-width="1.3"/>
<line x1="347.06" y1="452.50" x2="347.06" y2="455.70" stroke-width="1.3"/>
<line x1="351.67" y1="452.50" x2="351.67" y2="455.70" stroke-width="1.3"/>
<line x1="355.44" y1="452.50" x2="355.44" y2="455.70" stroke-width="1.3"/>
<line x1="358.63" y1="452.50" x2="358.63" y2="455.70" stroke-width="1.3"/>
<line x1="361.39" y1="452.50" x2="361.39" y2="455.70" stroke-width="1.3"/>
<line x1="363.82" y1="452.50" x2="363.82" y2="455.70" stroke-width="1.3"/>
<line x1="366.00" y1="452.50" x2="366.00" y2="458.50" stroke-width="1.3"/>
<line x1="380.33" y1="452.50" x2="380.33" y2="455.70" stroke-width="1.3"/>
<line x1="388.71" y1="452.50" x2="388.71" y2="455.70" stroke-width="1.3"/>
<line x1="394.66" y1="452.50" x2="394.66" y2="455.70" stroke-width="1.3"/>
<line x1="399.27" y1="452.50" x2="399.27" y2="455.70" stroke-width="1.3"/>
<line x1="403.04" y1="452.50" x2="403.04" y2="455.70" stroke-width="1.3"/>
<line x1="406.23" y1="452.50" x2="406.23" y2="455.70" stroke-width="1.3"/>
<line x1="408.99" y1="452.50" x2="408.99" y2="455.70" stroke-width="1.3"/>
<line x1="411.42" y1="452.50" x2="411.42" y2="455.70" stroke-width="1.3"/>
<line x1="413.60" y1="452.50" x2="413.60" y2="458.50" stroke-width="1.3"/>
<line x1="427.93" y1="452.50" x2="427.93" y2="455.70" stroke-width="1.3"/>
<line x1="436.31" y1="452.50" x2="436.31" y2="455.70" stroke-width="1.3"/>
<line x1="442.26" y1="452.50" x2="442.26" y2="455.70" stroke-width="1.3"/>
<line x1="446.87" y1="452.50" x2="446.87" y2="455.70" stroke-width="1.3"/>
<line x1="450.64" y1="452.50" x2="450.64" y2="455.70" stroke-width="1.3"/>
<line x1="453.83" y1="452.50" x2="453.83" y2="455.70" stroke-width="1.3"/>
<line x1="456.59" y1="452.50" x2="456.59" y2="455.70" stroke-width="1.3"/>
<line x1="459.02" y1="452.50" x2="459.02" y2="455.70" stroke-width="1.3"/>
<line x1="461.20" y1="452.50" x2="461.20" y2="458.50" stroke-width="1.3"/>
<line x1="475.53" y1="452.50" x2="475.53" y2="455.70" stroke-width="1.3"/>
<line x1="483.91" y1="452.50" x2="483.91" y2="455.70" stroke-width="1.3"/>
<line x1="489.86" y1="452.50" x2="489.86" y2="455.70" stroke-width="1.3"/>
<line x1="494.47" y1="452.50" x2="494.47" y2="455.70" stroke-width="1.3"/>
<line x1="498.24" y1="452.50" x2="498.24" y2="455.70" stroke-width="1.3"/>
<line x1="501.43" y1="452.50" x2="501.43" y2="455.70" stroke-width="1.3"/>
<line x1="504.19" y1="452.50" x2="504.19" y2="455.70" stroke-width="1.3"/>
<line x1="506.62" y1="452.50" x2="506.62" y2="455.70" stroke-width="1.3"/>
<line x1="508.80" y1="452.50" x2="508.80" y2="458.50" stroke-width="1.3"/>
<line x1="311.60" y1="452.30" x2="318.40" y2="452.30" stroke-width="1.3"/>
<line x1="314.60" y1="444.80" x2="318.40" y2="444.80" stroke-width="1.3"/>
<line x1="314.60" y1="437.30" x2="318.40" y2="437.30" stroke-width="1.3"/>
<line x1="314.60" y1="429.80" x2="318.40" y2="429.80" stroke-width="1.3"/>
<line x1="314.60" y1="422.30" x2="318.40" y2="422.30" stroke-width="1.3"/>
<line x1="311.60" y1="417.10" x2="318.40" y2="417.10" stroke-width="1.3"/>
<line x1="314.60" y1="409.60" x2="318.40" y2="409.60" stroke-width="1.3"/>
<line x1="314.60" y1="402.10" x2="318.40" y2="402.10" stroke-width="1.3"/>
<line x1="314.60" y1="394.60" x2="318.40" y2="394.60" stroke-width="1.3"/>
<line x1="314.60" y1="387.10" x2="318.40" y2="387.10" stroke-width="1.3"/>
<line x1="311.60" y1="381.60" x2="318.40" y2="381.60" stroke-width="1.3"/>
<line x1="314.60" y1="374.10" x2="318.40" y2="374.10" stroke-width="1.3"/>
<line x1="314.60" y1="366.60" x2="318.40" y2="366.60" stroke-width="1.3"/>
<line x1="314.60" y1="359.10" x2="318.40" y2="359.10" stroke-width="1.3"/>
<line x1="314.60" y1="351.60" x2="318.40" y2="351.60" stroke-width="1.3"/>
<line x1="311.60" y1="345.20" x2="318.40" y2="345.20" stroke-width="1.3"/>
<line x1="314.60" y1="337.70" x2="318.40" y2="337.70" stroke-width="1.3"/>
<line x1="314.60" y1="330.20" x2="318.40" y2="330.20" stroke-width="1.3"/>
<line x1="314.60" y1="322.70" x2="318.40" y2="322.70" stroke-width="1.3"/>
<line x1="314.60" y1="315.20" x2="318.40" y2="315.20" stroke-width="1.3"/>
<line x1="311.60" y1="310.00" x2="318.40" y2="310.00" stroke-width="1.3"/>
<line x1="314.60" y1="302.50" x2="318.40" y2="302.50" stroke-width="1.3"/>
<line x1="314.60" y1="295.00" x2="318.40" y2="295.00" stroke-width="1.3"/>
<line x1="314.60" y1="287.50" x2="318.40" y2="287.50" stroke-width="1.3"/>
<line x1="314.60" y1="280.00" x2="318.40" y2="280.00" stroke-width="1.3"/>
<line x1="311.60" y1="275.70" x2="318.40" y2="275.70" stroke-width="1.3"/>
<polyline points="320.6,307.0 321.6,322.4 323.1,319.3 325.1,316.8 326.2,313.7 327.7,308.2 328.7,304.1 329.7,302.1 330.2,299.1 330.7,295.0 332.3,289.1 333.9,277.7 334.7,275.6 338.8,275.6 340.9,278.6 342.3,290.0 344.7,299.7 346.7,306.2 348.0,316.0 349.6,332.2 350.9,348.4 352.0,359.8 353.1,365.0 355.5,376.0 358.3,386.9 360.4,401.5 362.8,412.5 365.6,425.2 368.3,438.0 370.1,443.5 372.9,445.5 380.0,446.0 386.0,445.5 392.0,446.5 398.0,445.8 404.0,446.5 410.0,445.8 416.0,446.3 424.0,446.5 426.0,450.5" stroke-width="1.5" stroke-linejoin="round" stroke-linecap="butt"/>
<polyline points="319.6,408.5 321.6,406.5 321.6,401.4 326.2,397.9 327.7,395.9 327.7,390.8 330.7,391.3 333.3,389.8 335.3,386.0 336.8,390.8 338.8,390.8 341.4,394.8 342.9,396.9 344.4,401.4 345.4,407.5 345.9,413.6 347.3,418.7 348.2,419.8 351.9,427.1 354.6,432.5 358.3,438.0 362.8,443.5 367.4,447.1 372.9,448.5 385.0,449.5 400.0,449.3 424.0,449.8" stroke-width="1.6" stroke-dasharray="2.6 2.2" stroke-linejoin="round" stroke-linecap="butt"/>
</g>
<g fill="#000" stroke="#000" stroke-width="0.25">
<text x="40.80" y="215.00" font-size="13.9" text-anchor="middle">0</text>
<text x="26.60" y="192.60" font-size="13.9" text-anchor="middle" transform="rotate(-90 26.60 192.60)">0</text>
<text x="80.60" y="215.00" font-size="13.9" text-anchor="middle">200</text>
<text x="26.60" y="159.10" font-size="13.9" text-anchor="middle" transform="rotate(-90 26.60 159.10)">200</text>
<text x="120.00" y="215.00" font-size="13.9" text-anchor="middle">400</text>
<text x="26.60" y="122.00" font-size="13.9" text-anchor="middle" transform="rotate(-90 26.60 122.00)">400</text>
<text x="159.30" y="215.00" font-size="13.9" text-anchor="middle">600</text>
<text x="26.60" y="85.70" font-size="13.9" text-anchor="middle" transform="rotate(-90 26.60 85.70)">600</text>
<text x="198.50" y="215.00" font-size="13.9" text-anchor="middle">800</text>
<text x="26.60" y="49.60" font-size="13.9" text-anchor="middle" transform="rotate(-90 26.60 49.60)">800</text>
<text x="236.00" y="215.00" font-size="13.9" text-anchor="middle">1000</text>
<text x="26.60" y="15.90" font-size="13.9" text-anchor="middle" transform="rotate(-90 26.60 15.90)">1000</text>
<text x="11.00" y="103.50" font-size="13.4" text-anchor="middle" transform="rotate(-90 11.00 103.50)">Side Scatter</text>
<text x="138.50" y="231.60" font-size="13.4" text-anchor="middle">Forward Scatter</text>
<text x="71.20" y="58.50" font-size="13.4" text-anchor="start">R1</text>
<text x="307.90" y="217.70" font-size="13.4">10<tspan font-size="12.4" dy="-7.0">0</tspan></text>
<text x="305.70" y="203.80" font-size="13.4" transform="rotate(-90 305.70 203.80)">10<tspan font-size="12.4" dy="-7.0">0</tspan></text>
<text x="354.60" y="217.70" font-size="13.4">10<tspan font-size="12.4" dy="-7.0">1</tspan></text>
<text x="305.70" y="158.80" font-size="13.4" transform="rotate(-90 305.70 158.80)">10<tspan font-size="12.4" dy="-7.0">1</tspan></text>
<text x="401.30" y="217.70" font-size="13.4">10<tspan font-size="12.4" dy="-7.0">2</tspan></text>
<text x="305.70" y="113.80" font-size="13.4" transform="rotate(-90 305.70 113.80)">10<tspan font-size="12.4" dy="-7.0">2</tspan></text>
<text x="448.00" y="217.70" font-size="13.4">10<tspan font-size="12.4" dy="-7.0">3</tspan></text>
<text x="305.70" y="68.80" font-size="13.4" transform="rotate(-90 305.70 68.80)">10<tspan font-size="12.4" dy="-7.0">3</tspan></text>
<text x="494.70" y="217.70" font-size="13.4">10<tspan font-size="12.4" dy="-7.0">4</tspan></text>
<text x="305.70" y="23.80" font-size="13.4" transform="rotate(-90 305.70 23.80)">10<tspan font-size="12.4" dy="-7.0">4</tspan></text>
<text x="411.00" y="232.30" font-size="13.1" text-anchor="middle">AC133 PE</text>
<text x="286.30" y="104.50" font-size="13.2" text-anchor="middle" transform="rotate(-90 286.30 104.50)">CD34 Cy5</text>
<text x="323.00" y="36.10" font-size="19.2" text-anchor="start" stroke-width="0">5,5%</text>
<text x="502.30" y="37.40" font-size="19.2" text-anchor="end" stroke-width="0">44,2%</text>
<text x="502.80" y="187.80" font-size="19.0" text-anchor="end" stroke-width="0">17,9%</text>
<text x="426.00" y="82.40" font-size="13.4" text-anchor="start">R3</text>
<text x="426.70" y="167.40" font-size="13.4" text-anchor="start">R2</text>
<text x="32.40" y="475.00" font-size="13.4">10<tspan font-size="12.4" dy="-7.0">0</tspan></text>
<text x="29.20" y="458.90" font-size="13.4" transform="rotate(-90 29.20 458.90)">10<tspan font-size="12.4" dy="-7.0">0</tspan></text>
<text x="81.50" y="475.00" font-size="13.4">10<tspan font-size="12.4" dy="-7.0">1</tspan></text>
<text x="29.20" y="414.10" font-size="13.4" transform="rotate(-90 29.20 414.10)">10<tspan font-size="12.4" dy="-7.0">1</tspan></text>
<text x="130.60" y="475.00" font-size="13.4">10<tspan font-size="12.4" dy="-7.0">2</tspan></text>
<text x="29.20" y="369.30" font-size="13.4" transform="rotate(-90 29.20 369.30)">10<tspan font-size="12.4" dy="-7.0">2</tspan></text>
<text x="179.70" y="475.00" font-size="13.4">10<tspan font-size="12.4" dy="-7.0">3</tspan></text>
<text x="29.20" y="324.50" font-size="13.4" transform="rotate(-90 29.20 324.50)">10<tspan font-size="12.4" dy="-7.0">3</tspan></text>
<text x="228.80" y="475.00" font-size="13.4">10<tspan font-size="12.4" dy="-7.0">4</tspan></text>
<text x="29.20" y="279.70" font-size="13.4" transform="rotate(-90 29.20 279.70)">10<tspan font-size="12.4" dy="-7.0">4</tspan></text>
<text x="11.80" y="363.00" font-size="13.2" text-anchor="middle" transform="rotate(-90 11.80 363.00)">Mouse IgG1 Cy5</text>
<text x="141.75" y="487.30" font-size="13.2" text-anchor="middle">Mouse IgG1 PE</text>
<text x="308.00" y="475.20" font-size="13.4">10<tspan font-size="12.4" dy="-7.0">0</tspan></text>
<text x="355.60" y="475.20" font-size="13.4">10<tspan font-size="12.4" dy="-7.0">1</tspan></text>
<text x="403.20" y="475.20" font-size="13.4">10<tspan font-size="12.4" dy="-7.0">2</tspan></text>
<text x="450.80" y="475.20" font-size="13.4">10<tspan font-size="12.4" dy="-7.0">3</tspan></text>
<text x="498.40" y="475.20" font-size="13.4">10<tspan font-size="12.4" dy="-7.0">4</tspan></text>
<text x="305.80" y="449.30" font-size="13.4" text-anchor="middle" transform="rotate(-90 305.80 449.30)">0</text>
<text x="305.80" y="414.10" font-size="13.4" text-anchor="middle" transform="rotate(-90 305.80 414.10)">20</text>
<text x="305.80" y="378.60" font-size="13.4" text-anchor="middle" transform="rotate(-90 305.80 378.60)">40</text>
<text x="305.80" y="342.20" font-size="13.4" text-anchor="middle" transform="rotate(-90 305.80 342.20)">60</text>
<text x="305.80" y="307.00" font-size="13.4" text-anchor="middle" transform="rotate(-90 305.80 307.00)">80</text>
<text x="305.80" y="272.70" font-size="13.4" text-anchor="middle" transform="rotate(-90 305.80 272.70)">100</text>
<text x="290.30" y="365.20" font-size="13.7" text-anchor="middle" transform="rotate(-90 290.30 365.20)">Counts</text>
<text x="413.60" y="488.80" font-size="13.1" text-anchor="middle">CD 90 Fitc</text>
</g>
</svg>
</body></html>
